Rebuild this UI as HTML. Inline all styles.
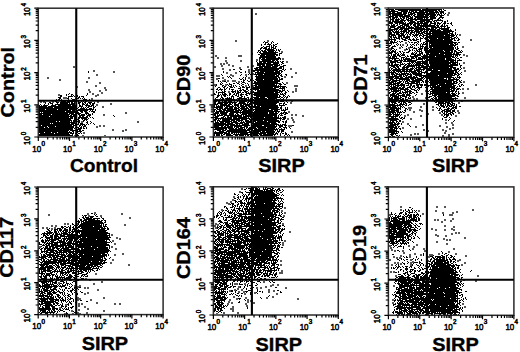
<!DOCTYPE html><html><head><meta charset="utf-8"><style>
html,body{margin:0;padding:0;background:#fff;width:520px;height:352px;overflow:hidden}
svg{display:block}
text{font-family:"Liberation Sans",sans-serif}
</style></head><body>
<svg width="520" height="352" viewBox="0 0 520 352">
<path d="M448 12.5h2M255 13.5h2m191 0h2M255 14.5h2m190 0h2M447 15.5h2M459 34.5h2M459 35.5h2M470 39.5h2M235 40.5h2m30 0h2m201 0h2M235 41.5h2m30 0h2M405 42.5h2M405 43.5h2M402 44.5h2M402 45.5h2M462 46.5h2M399 47.5h2m7 0h2m52 0h2M389 48.5h2m8 0h2m7 0h2M389 49.5h2m13 0h2M404 50.5h2M281 51.5h2M281 52.5h2M251 53.5h2M251 54.5h2m210 0h2M215 55.5h2m21 0h4m221 0h2m1 0h2M215 56.5h2m21 0h4m224 0h2M217 57.5h2m6 0h2M217 58.5h2m6 0h2m55 0h2M256 59.5h2m24 0h2M225 60.5h2m13 0h2m14 0h2M225 61.5h2m13 0h2m44 0h2M226 62.5h2m58 0h2m175 0h2M220 63.5h2m1 0h2m1 0h2m235 0h2M220 64.5h2m1 0h2m3 0h2M221 65.5h2m5 0h2m2 0h2m18 0h2M73 66.5h2m139 0h2m5 0h2m9 0h2m13 0h2m3 0h2M73 67.5h2m139 0h2m23 0h2m6 0h2m214 0h2M222 68.5h2m15 0h2m49 0h2m171 0h2M222 69.5h2m5 0h2m17 0h2m1 0h2m37 0h2M93 70.5h2m134 0h2m17 0h2m1 0h2m211 0h2M93 71.5h2m18 0h2m133 0h2m214 0h2M113 72.5h2m111 0h2m7 0h2m11 0h2m45 0h2M226 73.5h2m7 0h2m15 0h2m41 0h2M96 74.5h2m132 0h2m13 0h2m5 0h2M96 75.5h2m118 0h4m10 0h4m11 0h2M216 76.5h4m12 0h2m50 0h2m5 0h2M47 77.5h2m39 0h2m132 0h2m24 0h2m34 0h2m5 0h2M47 78.5h2m39 0h2m126 0h2m4 0h2m24 0h2M59 79.5h2m155 0h2m6 0h2M59 80.5h2m161 0h4m1 0h2m3 0h4M86 81.5h2m134 0h2m3 0h2m3 0h4m2 0h2m223 0h2M86 82.5h2m11 0h2m137 0h2m46 0h2m175 0h2M99 83.5h2m185 0h2M214 84.5h2m9 0h2m248 0h2M95 85.5h2m117 0h2m9 0h2m18 0h2m5 0h2m40 0h4m177 0h2M76 86.5h2m17 0h2m148 0h2m5 0h2m40 0h4M76 87.5h2m26 0h2M104 88.5h2m189 0h2m165 0h2m3 0h2M88 89.5h2m15 0h2m188 0h2m165 0h2m3 0h2M88 90.5h2m9 0h2m4 0h2m188 0h2m128 0h2M89 91.5h2m8 0h2m127 0h2m20 0h2m40 0h2m1 0h2m128 0h2M89 92.5h2m10 0h2m125 0h2m20 0h2m40 0h2m168 0h2M92 93.5h2m7 0h2m318 0h2m39 0h2M58 94.5h2m32 0h2m3 0h2m322 0h2M58 95.5h2m35 0h4M95 96.5h2m315 0h2M63 97.5h4m345 0h2m11 0h2m37 0h2M63 98.5h4m24 0h2m320 0h2m1 0h2m7 0h2m37 0h2M91 99.5h2m320 0h2m1 0h2m9 0h2M291 100.5h2m118 0h2m14 0h2m32 0h2M40 101.5h2m1 0h2m7 0h2m43 0h2m192 0h2m118 0h2m48 0h2M40 102.5h2m1 0h2m7 0h2m43 0h2m191 0h2m166 0h2M110 103.5h2m178 0h2m131 0h2m33 0h2M96 104.5h2m12 0h2m311 0h2M96 105.5h2M102 106.5h2m316 0h2m10 0h2M102 107.5h2m304 0h4m8 0h2m10 0h2M408 108.5h4M409 109.5h2m8 0h2m11 0h2M409 110.5h2m8 0h4m9 0h2m23 0h2M288 111.5h2m123 0h2m6 0h2m34 0h2M125 112.5h2m161 0h2m123 0h2m24 0h2m17 0h2M125 113.5h2m300 0h2m10 0h2m17 0h2M103 114.5h2m186 0h2m2 0h2m110 0h2m18 0h2m12 0h2M103 115.5h2m186 0h2m2 0h2m5 0h2m100 0h2m1 0h2m11 0h2m19 0h2m12 0h2M302 116.5h2m100 0h2m14 0h2m33 0h2M291 117.5h2M287 118.5h2m2 0h2m117 0h2M287 119.5h2m3 0h2m116 0h2m33 0h2M292 120.5h2m151 0h2M81 121.5h2m54 0h2m154 0h2m107 0h2M81 122.5h2m54 0h2m154 0h2m107 0h2m41 0h2m4 0h2M407 123.5h2m36 0h2m4 0h2M407 124.5h2m13 0h2m28 0h2M99 125.5h2m2 0h2m183 0h4m130 0h2m15 0h2m11 0h2M96 126.5h2m1 0h2m2 0h2m183 0h4m123 0h2m22 0h2m5 0h2M96 127.5h2m304 0h2m11 0h2m29 0h2m4 0h2M402 128.5h2m45 0h2m1 0h2M112 129.5h2m11 0h2m296 0h2m17 0h2m5 0h2M112 130.5h2m8 0h2m1 0h2m296 0h2m2 0h2m13 0h2m1 0h2M122 131.5h2m167 0h2m134 0h2m16 0h2M83 132.5h2m206 0h2m151 0h2M83 133.5h2m329 0h2m1 0h2m25 0h2m6 0h2M410 134.5h2m2 0h2m1 0h2m29 0h2m2 0h2M74 135.5h2m6 0h2m20 0h2m304 0h2m30 0h2m4 0h2M442 136.5h2m4 0h2M241 188.5h2M241 189.5h2M239 191.5h2M239 192.5h2M233 196.5h2M233 197.5h2M232 199.5h2M232 200.5h2M230 201.5h2M226 202.5h2m2 0h2M226 203.5h4M228 204.5h2M400 206.5h2m34 0h2m6 0h2M284 207.5h2m114 0h2m34 0h2m6 0h2M284 208.5h2M221 209.5h2m177 0h2m70 0h2M221 210.5h2m58 0h2m117 0h2m16 0h2m15 0h2m35 0h2M281 211.5h2m135 0h2m15 0h2m19 0h2M94 212.5h2m188 0h2m156 0h2m8 0h2m2 0h2M87 213.5h2m5 0h2m25 0h2m161 0h2m136 0h2m18 0h2m8 0h2M48 214.5h2m37 0h2m32 0h2m266 0h2m31 0h2m25 0h4M48 215.5h2m38 0h2m10 0h2m181 0h2m104 0h2m58 0h4M88 216.5h2m10 0h2m181 0h2M129 217.5h2M129 218.5h2m321 0h2M434 219.5h2m1 0h2m5 0h2m6 0h2M434 220.5h2m1 0h2m5 0h2m4 0h2M441 221.5h2m7 0h2M441 222.5h2M64 223.5h2m1 0h2m7 0h2m137 0h2m65 0h2M64 224.5h2m1 0h2m7 0h2m46 0h2m89 0h4m63 0h2M51 225.5h2m2 0h2m67 0h2m88 0h2m1 0h2m225 0h2M51 226.5h2m2 0h2m157 0h2m228 0h2m7 0h2M42 227.5h2m2 0h2m6 0h2m159 0h2m236 0h2M42 228.5h2m2 0h2m3 0h2m1 0h2m159 0h2m214 0h2m18 0h2M51 229.5h2m378 0h2m2 0h2m7 0h2m5 0h4M435 230.5h2m7 0h2m7 0h2M289 231.5h2M289 232.5h2m164 0h2m1 0h2M451 233.5h2m2 0h2m1 0h2M111 234.5h2m322 0h2m14 0h2M111 235.5h2m322 0h4m6 0h2M437 236.5h2m6 0h2M116 237.5h2m346 0h2M116 238.5h2m1 0h2m322 0h2m19 0h2M119 239.5h2m322 0h2m1 0h2m1 0h2M112 240.5h2m170 0h2m160 0h2m1 0h2M112 241.5h2m170 0h2m150 0h2M282 242.5h2m152 0h2M114 243.5h2m166 0h2m162 0h2M114 244.5h2m166 0h2m132 0h2m28 0h2M282 245.5h2m105 0h2m17 0h2m6 0h2M39 246.5h2m70 0h2m276 0h2m17 0h2m3 0h2M39 247.5h2m70 0h2m277 0h2m21 0h2M115 248.5h2m273 0h2m20 0h2m9 0h2m28 0h2M115 249.5h2m274 0h2m19 0h2m9 0h2m28 0h2M391 250.5h2m1 0h2m6 0h2m20 0h2M394 251.5h2m6 0h2m20 0h2m22 0h2M403 252.5h2m43 0h2M122 253.5h2m279 0h2m9 0h2m22 0h2m15 0h2M114 254.5h2m6 0h2m285 0h2m3 0h2m4 0h2m7 0h4m5 0h2m15 0h2M114 255.5h2m284 0h2m7 0h2m9 0h2m7 0h4m32 0h2M393 256.5h2m5 0h2m7 0h2m15 0h4m35 0h2M393 257.5h2m1 0h2m1 0h2m8 0h2m15 0h4M396 258.5h2m1 0h2M112 259.5h2m275 0h2m19 0h2m47 0h2M112 260.5h2m166 0h2m107 0h2m19 0h2m15 0h2m28 0h4M280 261.5h2m130 0h2m13 0h2m28 0h2M110 262.5h2m282 0h2m1 0h2m11 0h4m12 0h2m36 0h2M110 263.5h2m282 0h2m1 0h2m1 0h2m8 0h2m14 0h2m36 0h2M128 264.5h2m150 0h2m109 0h2m7 0h2m8 0h2m49 0h2M128 265.5h2m150 0h2m109 0h2m17 0h2m13 0h2m34 0h2M425 266.5h2M281 270.5h2M281 271.5h2m107 0h2m1 0h2M279 272.5h4m107 0h2m1 0h2M95 273.5h2m182 0h4M95 274.5h2M395 275.5h2m80 0h2M395 276.5h2m80 0h2M85 278.5h2M85 279.5h2m2 0h2m180 0h2m190 0h2M89 280.5h2m180 0h2m190 0h2m10 0h2M101 281.5h2m160 0h2m210 0h2M58 282.5h2m41 0h2m160 0h2M58 283.5h2m33 0h2m139 0h4m6 0h2M93 284.5h2m139 0h4m6 0h2m26 0h2m3 0h2M74 285.5h2m3 0h2m189 0h4m3 0h2m114 0h2M74 286.5h2m1 0h4m157 0h2m25 0h2m3 0h2m121 0h2M77 287.5h2m5 0h2m1 0h2m149 0h2m16 0h2m2 0h2m3 0h2m18 0h2M84 288.5h2m1 0h2m148 0h2m17 0h2m2 0h2m23 0h2M97 289.5h2m135 0h2m1 0h2m2 0h2m25 0h2M97 290.5h2m130 0h2m3 0h2m5 0h2m25 0h2m3 0h2M229 291.5h2m7 0h2m3 0h2m23 0h2m3 0h2M87 292.5h2m149 0h2m3 0h2m9 0h2m12 0h2M84 293.5h2m1 0h2m155 0h2m8 0h2m20 0h2M84 294.5h2m158 0h2m30 0h2M233 296.5h2m37 0h2M77 297.5h2m24 0h2m128 0h2m10 0h2m19 0h2m4 0h2M75 298.5h6m22 0h2m131 0h2m7 0h2m19 0h2m29 0h2M75 299.5h6m9 0h2m137 0h2m5 0h2m9 0h2m48 0h2m93 0h2M77 300.5h2m11 0h2m137 0h2m16 0h2m1 0h2m140 0h2M228 301.5h2m17 0h2m1 0h2M96 302.5h2m130 0h2m1 0h2m14 0h2m4 0h2m137 0h2M78 303.5h2m1 0h2m13 0h2m16 0h2m3 0h2m106 0h2m2 0h2m12 0h2m6 0h2m137 0h2m68 0h2M65 304.5h2m11 0h2m1 0h2m31 0h2m3 0h2m106 0h2m16 0h2m215 0h2M65 305.5h2m11 0h2m166 0h2M78 306.5h2m4 0h2m146 0h2m12 0h2m216 0h2M59 307.5h2m23 0h2m146 0h2m230 0h2M59 308.5h2m26 0h2m141 0h4M78 309.5h2m7 0h2m141 0h4M71 310.5h2m5 0h2m23 0h2m127 0h2M71 311.5h2m30 0h2m127 0h2M77 312.5h2m7 0h2m135 0h2m12 0h2M64 313.5h2m6 0h2m3 0h4m5 0h2m128 0h2m5 0h2m12 0h2" stroke="#555" stroke-width="1" fill="none" shape-rendering="crispEdges"/><path d="M389 9.5h5m1 0h26m1 0h20m1 0h1M389 10.5h1m1 0h4m3 0h10m1 0h17m1 0h10m1 0h2m1 0h1m2 0h2M389 11.5h9m3 0h7m1 0h1m1 0h3m1 0h2m2 0h5m1 0h9m1 0h3m1 0h5M389 12.5h2m1 0h3m2 0h5m1 0h4m1 0h4m1 0h15m1 0h10m1 0h4M389 13.5h13m1 0h4m1 0h1m1 0h5m2 0h8m1 0h9m1 0h1m1 0h1m1 0h2m1 0h1m1 0h1M389 14.5h2m1 0h14m2 0h5m1 0h2m1 0h19m1 0h3m1 0h1m2 0h1M390 15.5h1m1 0h11m1 0h6m1 0h1m1 0h2m2 0h7m1 0h1m1 0h2m1 0h6m1 0h1m1 0h5M389 16.5h5m1 0h3m1 0h12m1 0h1m1 0h14m1 0h6m1 0h1m3 0h2M389 17.5h2m1 0h6m2 0h1m1 0h3m1 0h3m1 0h3m2 0h14m1 0h6m3 0h5M390 18.5h1m1 0h3m1 0h1m1 0h1m1 0h2m1 0h2m1 0h1m1 0h5m1 0h2m1 0h6m1 0h1m1 0h2m2 0h6m2 0h2m2 0h1M390 19.5h4m1 0h5m1 0h3m2 0h3m1 0h23m4 0h2m1 0h1M390 20.5h1m1 0h2m1 0h4m1 0h6m1 0h6m2 0h2m3 0h6m1 0h3m2 0h1m1 0h9m4 0h1M389 21.5h2m1 0h11m1 0h1m3 0h1m1 0h5m2 0h8m1 0h6m1 0h2m1 0h1m5 0h1m1 0h2m1 0h1M389 22.5h4m1 0h10m1 0h1m3 0h7m1 0h2m1 0h3m1 0h2m1 0h2m1 0h2m2 0h2m1 0h2m2 0h1m2 0h2m5 0h1M389 23.5h4m2 0h3m1 0h7m1 0h6m1 0h14m2 0h6m1 0h4m2 0h3m1 0h2m1 0h2M391 24.5h1m1 0h2m2 0h1m1 0h1m2 0h7m1 0h2m1 0h3m1 0h3m1 0h1m1 0h5m1 0h2m3 0h2m1 0h1m1 0h1m2 0h1m1 0h1m6 0h1M389 25.5h1m1 0h4m1 0h2m2 0h3m1 0h5m1 0h1m2 0h3m1 0h18m1 0h3m2 0h2m1 0h1m1 0h2m4 0h1M390 26.5h6m2 0h3m1 0h3m1 0h4m1 0h1m2 0h5m1 0h16m1 0h2m1 0h6m1 0h1M390 27.5h5m2 0h8m1 0h1m1 0h6m1 0h7m1 0h1m1 0h3m3 0h9m1 0h1m2 0h1m2 0h3M389 28.5h2m3 0h5m1 0h25m1 0h4m1 0h3m1 0h2m2 0h10M389 29.5h9m1 0h4m1 0h5m2 0h1m2 0h22m1 0h3m1 0h8m1 0h1m4 0h1M389 30.5h4m1 0h1m1 0h1m1 0h1m2 0h1m1 0h4m1 0h6m1 0h4m1 0h3m1 0h1m3 0h1m1 0h11m2 0h9m3 0h1M389 31.5h2m1 0h2m1 0h4m1 0h7m1 0h2m1 0h2m1 0h8m1 0h4m2 0h25M389 32.5h3m1 0h7m1 0h1m1 0h2m1 0h3m1 0h5m1 0h4m1 0h4m1 0h2m1 0h2m1 0h18m2 0h1m2 0h1M389 33.5h3m2 0h1m1 0h3m1 0h4m2 0h1m1 0h1m1 0h2m2 0h1m1 0h1m1 0h5m1 0h24m1 0h4m2 0h1M389 34.5h6m1 0h4m1 0h3m1 0h1m1 0h1m1 0h2m1 0h2m1 0h4m1 0h1m1 0h2m2 0h1m1 0h3m1 0h18m1 0h3m1 0h1m1 0h1M389 35.5h1m1 0h5m2 0h7m2 0h1m2 0h1m2 0h5m1 0h3m1 0h3m3 0h15m1 0h10m1 0h1M389 36.5h3m1 0h1m1 0h1m2 0h4m1 0h2m1 0h4m2 0h1m1 0h1m1 0h1m2 0h1m2 0h2m3 0h23m1 0h3m2 0h1M390 37.5h2m1 0h4m1 0h2m1 0h1m1 0h7m5 0h1m1 0h1m2 0h1m2 0h1m1 0h2m1 0h24m2 0h2m1 0h1M389 38.5h1m1 0h1m2 0h1m1 0h4m1 0h2m2 0h3m1 0h1m3 0h1m2 0h1m3 0h3m1 0h4m1 0h8m1 0h12m1 0h4m1 0h1m1 0h1M389 39.5h7m3 0h1m2 0h4m2 0h3m1 0h3m1 0h3m1 0h1m4 0h1m1 0h2m1 0h13m1 0h9m1 0h1m3 0h2M389 40.5h1m1 0h1m2 0h2m8 0h3m3 0h2m1 0h4m3 0h1m6 0h25m2 0h2m1 0h2M264 41.5h1m7 0h1m117 0h3m1 0h1m2 0h1m1 0h1m1 0h2m5 0h1m8 0h2m1 0h1m4 0h1m1 0h26M263 42.5h1m1 0h3m3 0h1m1 0h1m116 0h7m3 0h1m8 0h1m1 0h2m1 0h3m1 0h1m4 0h2m4 0h28m1 0h2M265 43.5h1m2 0h1m2 0h1m5 0h1m111 0h3m1 0h1m3 0h1m16 0h1m2 0h1m3 0h1m1 0h1m1 0h3m1 0h24m1 0h2m1 0h1M261 44.5h1m2 0h2m1 0h4m2 0h1m1 0h2m114 0h1m4 0h1m1 0h1m1 0h1m6 0h1m2 0h1m1 0h2m2 0h1m1 0h1m1 0h1m1 0h6m1 0h1m1 0h18m1 0h4m1 0h3M261 45.5h1m7 0h1m1 0h1m1 0h2m114 0h2m3 0h1m2 0h1m2 0h1m6 0h1m3 0h1m2 0h1m1 0h1m3 0h1m1 0h1m3 0h2m1 0h27M263 46.5h1m2 0h4m1 0h1m1 0h1m1 0h2m112 0h1m2 0h4m5 0h1m4 0h1m3 0h1m1 0h1m7 0h4m1 0h1m3 0h24m1 0h1m2 0h1M261 47.5h2m1 0h3m2 0h1m1 0h3m1 0h1m115 0h2m9 0h1m7 0h3m1 0h1m3 0h1m1 0h1m1 0h1m1 0h4m1 0h3m1 0h21m1 0h1m1 0h1M260 48.5h2m1 0h4m1 0h2m1 0h1m1 0h3m115 0h3m12 0h1m6 0h4m2 0h4m1 0h2m1 0h2m1 0h24m1 0h1m1 0h2M260 49.5h1m4 0h9m2 0h1m1 0h1m1 0h1m110 0h1m2 0h1m1 0h1m9 0h2m1 0h1m2 0h1m3 0h1m1 0h4m2 0h3m2 0h25m2 0h2M258 50.5h2m1 0h2m1 0h2m1 0h8m1 0h1m1 0h2m110 0h1m1 0h2m1 0h1m13 0h2m1 0h1m1 0h1m1 0h2m1 0h1m1 0h1m2 0h2m1 0h16m1 0h9m1 0h2m2 0h2m1 0h1M258 51.5h1m1 0h1m1 0h5m1 0h6m1 0h1m3 0h1m109 0h1m1 0h5m3 0h2m1 0h1m5 0h2m5 0h1m1 0h5m3 0h19m1 0h5m1 0h2m1 0h3m3 0h1m1 0h1M257 52.5h1m1 0h2m2 0h15m111 0h4m1 0h2m1 0h1m2 0h1m2 0h2m1 0h3m3 0h1m1 0h1m1 0h1m2 0h1m1 0h2m2 0h28m1 0h1m1 0h6M260 53.5h16m3 0h3m107 0h3m3 0h2m1 0h1m2 0h1m1 0h1m7 0h3m1 0h2m2 0h4m3 0h3m1 0h9m1 0h12m1 0h2m1 0h3M258 54.5h2m1 0h17m1 0h1m111 0h1m1 0h3m1 0h2m1 0h1m1 0h3m6 0h5m1 0h4m1 0h1m1 0h1m3 0h16m1 0h16M260 55.5h5m1 0h9m1 0h2m1 0h1m109 0h1m1 0h1m1 0h3m1 0h3m1 0h4m2 0h1m2 0h1m3 0h7m2 0h5m1 0h23m1 0h1m1 0h3m1 0h1M260 56.5h16m114 0h1m1 0h5m2 0h2m4 0h1m1 0h2m1 0h8m3 0h6m1 0h7m1 0h18m1 0h1m1 0h1M259 57.5h17m2 0h2m109 0h2m1 0h3m1 0h1m4 0h4m1 0h1m4 0h3m1 0h2m1 0h3m1 0h29m1 0h3m1 0h1m3 0h2M259 58.5h2m1 0h3m1 0h15m108 0h10m2 0h1m1 0h1m1 0h5m1 0h4m1 0h1m1 0h10m1 0h16m1 0h6m3 0h1m1 0h2M259 59.5h1m1 0h18m1 0h1m108 0h1m2 0h1m1 0h2m3 0h1m1 0h1m1 0h9m4 0h7m1 0h1m1 0h19m1 0h8m1 0h1m3 0h1M259 60.5h1m2 0h9m1 0h3m1 0h2m111 0h3m2 0h9m1 0h2m1 0h10m5 0h1m2 0h31m1 0h5M256 61.5h1m2 0h15m1 0h1m1 0h2m1 0h1m1 0h2m106 0h8m2 0h2m1 0h13m1 0h11m1 0h20m1 0h4m1 0h1m1 0h1M257 62.5h1m1 0h3m1 0h3m1 0h12m2 0h2m107 0h6m1 0h5m7 0h1m1 0h3m1 0h6m1 0h6m1 0h29M257 63.5h14m2 0h6m3 0h2m105 0h1m1 0h2m2 0h1m4 0h1m1 0h1m1 0h1m2 0h4m1 0h1m1 0h1m1 0h10m3 0h22m1 0h4m1 0h1m1 0h1M257 64.5h8m1 0h12m1 0h1m1 0h1m107 0h1m1 0h2m1 0h5m1 0h4m1 0h2m1 0h2m1 0h1m1 0h1m1 0h6m1 0h1m1 0h5m1 0h19m1 0h8m1 0h1M257 65.5h4m1 0h3m1 0h7m1 0h6m3 0h3m103 0h9m1 0h2m3 0h2m1 0h17m2 0h3m1 0h28m2 0h2M259 66.5h12m1 0h6m2 0h4m107 0h4m1 0h3m1 0h1m2 0h2m1 0h9m1 0h1m1 0h2m1 0h32m7 0h1M256 67.5h7m1 0h13m2 0h3m1 0h1m106 0h1m2 0h3m1 0h2m3 0h7m3 0h1m1 0h1m1 0h12m1 0h20m1 0h6m4 0h1M254 68.5h4m1 0h23m1 0h1m105 0h1m1 0h2m2 0h2m1 0h2m2 0h3m1 0h2m2 0h4m1 0h2m1 0h3m2 0h3m2 0h24m1 0h3m1 0h2m2 0h1M233 69.5h2m5 0h2m13 0h24m3 0h2m1 0h1m103 0h1m1 0h1m1 0h20m1 0h1m1 0h9m1 0h1m1 0h4m1 0h19m2 0h5m1 0h1M253 70.5h25m1 0h3m2 0h1m104 0h2m1 0h9m1 0h3m1 0h2m1 0h3m2 0h6m1 0h1m1 0h1m3 0h11m2 0h17m2 0h1M88 71.5h1m134 0h1m15 0h1m5 0h1m7 0h2m2 0h2m1 0h14m1 0h5m1 0h2m106 0h1m1 0h1m1 0h2m1 0h20m1 0h5m3 0h3m3 0h23m1 0h2m1 0h1M88 72.5h1m134 0h1m16 0h2m3 0h1m9 0h9m1 0h15m1 0h1m107 0h7m2 0h1m1 0h2m2 0h1m1 0h1m2 0h1m1 0h6m1 0h2m1 0h5m1 0h1m2 0h24m1 0h3m3 0h1M249 73.5h1m5 0h1m1 0h24m108 0h1m1 0h3m1 0h3m1 0h1m1 0h8m1 0h1m1 0h10m2 0h1m1 0h21m1 0h8m1 0h2m1 0h1M221 74.5h1m19 0h1m6 0h1m1 0h1m3 0h9m1 0h13m1 0h2m1 0h1m3 0h2m102 0h1m1 0h4m1 0h10m1 0h5m1 0h9m4 0h1m1 0h25m1 0h3m1 0h2m1 0h1M222 75.5h1m17 0h1m15 0h1m1 0h17m1 0h3m1 0h2m4 0h1m102 0h1m2 0h1m1 0h3m2 0h3m1 0h1m1 0h3m2 0h2m3 0h23m1 0h16m2 0h2M227 76.5h1m1 0h1m16 0h1m8 0h24m2 0h2m106 0h13m1 0h2m1 0h1m1 0h4m1 0h2m1 0h1m2 0h3m1 0h29m5 0h1m1 0h1M228 77.5h1m1 0h1m12 0h1m1 0h1m10 0h21m1 0h2m109 0h5m1 0h4m1 0h3m2 0h13m3 0h3m1 0h2m1 0h26m1 0h1m1 0h4M218 78.5h2m11 0h1m7 0h1m2 0h1m2 0h1m5 0h2m3 0h22m1 0h1m1 0h2m106 0h4m1 0h15m1 0h6m1 0h6m1 0h1m3 0h16m2 0h1m1 0h3m2 0h2m1 0h1m2 0h1M240 79.5h2m1 0h1m1 0h1m4 0h1m4 0h8m1 0h14m1 0h4m107 0h4m2 0h1m2 0h11m1 0h3m1 0h7m1 0h1m5 0h18m1 0h11M218 80.5h1m24 0h2m2 0h1m2 0h1m2 0h1m2 0h17m1 0h6m109 0h2m1 0h8m2 0h1m1 0h1m1 0h4m2 0h11m2 0h1m1 0h1m1 0h25m2 0h2m1 0h1m1 0h1M218 81.5h1m1 0h1m3 0h2m15 0h1m1 0h1m4 0h2m4 0h2m1 0h23m109 0h1m1 0h6m2 0h3m1 0h1m1 0h3m1 0h11m2 0h2m1 0h1m2 0h1m1 0h22m1 0h4m2 0h2M221 82.5h1m4 0h1m9 0h1m5 0h3m9 0h24m4 0h1m106 0h5m1 0h1m1 0h4m2 0h1m1 0h1m1 0h2m2 0h4m1 0h4m1 0h1m1 0h1m1 0h2m2 0h23m1 0h2m1 0h2m2 0h2M220 83.5h1m1 0h1m6 0h1m3 0h2m2 0h2m2 0h1m3 0h1m1 0h1m5 0h28m2 0h1m105 0h3m1 0h7m1 0h2m2 0h13m1 0h1m6 0h2m2 0h15m1 0h11m2 0h1M216 84.5h1m3 0h2m5 0h1m1 0h3m7 0h1m2 0h2m4 0h1m6 0h20m1 0h1m2 0h3m2 0h2m103 0h7m1 0h2m1 0h5m3 0h1m1 0h2m4 0h7m1 0h2m4 0h8m1 0h15m4 0h1m2 0h2M216 85.5h1m5 0h2m4 0h1m2 0h1m1 0h1m1 0h1m5 0h1m6 0h1m5 0h3m1 0h19m1 0h1m1 0h1m108 0h1m1 0h1m1 0h1m1 0h10m1 0h3m1 0h2m1 0h2m1 0h3m1 0h3m1 0h2m2 0h8m1 0h15m1 0h3m3 0h1m1 0h1m1 0h1M215 86.5h1m6 0h1m1 0h2m3 0h3m1 0h1m2 0h1m2 0h1m2 0h2m5 0h1m5 0h31m104 0h2m1 0h3m1 0h2m2 0h1m1 0h2m4 0h2m1 0h3m2 0h2m2 0h1m6 0h1m1 0h1m1 0h8m1 0h14m2 0h1m1 0h2M218 87.5h2m3 0h2m2 0h1m2 0h3m1 0h1m5 0h1m1 0h3m1 0h4m1 0h1m1 0h20m1 0h5m1 0h1m1 0h3m1 0h1m102 0h1m1 0h7m1 0h2m1 0h3m2 0h4m1 0h1m1 0h1m1 0h6m3 0h2m3 0h25m1 0h1M217 88.5h1m2 0h1m3 0h1m1 0h1m2 0h1m8 0h3m5 0h2m4 0h24m3 0h6m104 0h15m1 0h3m2 0h2m3 0h1m2 0h2m6 0h1m4 0h2m1 0h16m1 0h5m1 0h3M216 89.5h2m1 0h4m1 0h2m3 0h1m1 0h3m6 0h1m1 0h2m2 0h2m2 0h2m1 0h6m1 0h19m3 0h1m1 0h1m105 0h7m1 0h1m1 0h9m2 0h4m2 0h1m1 0h1m10 0h22m1 0h2m1 0h3m1 0h1M218 90.5h1m2 0h1m2 0h1m7 0h1m2 0h1m1 0h1m1 0h3m1 0h3m2 0h1m6 0h1m1 0h24m1 0h3m2 0h1m101 0h1m1 0h1m1 0h8m3 0h2m1 0h1m1 0h2m3 0h3m1 0h1m10 0h1m2 0h18m1 0h4m1 0h1M216 91.5h1m5 0h1m1 0h2m5 0h5m1 0h2m1 0h1m3 0h4m5 0h1m3 0h21m1 0h4m2 0h1m2 0h1m102 0h8m1 0h1m1 0h1m2 0h7m4 0h1m11 0h1m1 0h24m1 0h2m1 0h1M216 92.5h1m1 0h7m7 0h2m1 0h1m1 0h4m1 0h2m1 0h2m1 0h1m3 0h22m1 0h5m1 0h1m3 0h2m102 0h2m2 0h1m1 0h2m2 0h2m1 0h6m1 0h2m1 0h2m2 0h2m8 0h2m2 0h1m1 0h14m1 0h3m2 0h1m2 0h1m2 0h1M69 93.5h1m17 0h1m126 0h1m3 0h1m3 0h1m1 0h2m3 0h2m3 0h1m1 0h3m2 0h1m4 0h5m3 0h24m2 0h1m1 0h1m1 0h2m103 0h1m2 0h4m1 0h5m1 0h1m1 0h1m1 0h1m1 0h3m2 0h1m13 0h1m1 0h20m1 0h4m1 0h1m1 0h2M66 94.5h1m1 0h1m2 0h2m3 0h1m10 0h1m126 0h2m2 0h1m1 0h1m1 0h5m2 0h2m2 0h2m1 0h1m1 0h1m1 0h4m1 0h2m2 0h1m1 0h1m1 0h26m1 0h4m1 0h1m104 0h5m1 0h3m3 0h3m1 0h4m6 0h1m10 0h1m1 0h2m1 0h1m1 0h17m1 0h4m2 0h1M60 95.5h2m4 0h1m4 0h1m1 0h1m2 0h2m8 0h1m130 0h3m1 0h1m1 0h3m1 0h1m1 0h1m2 0h1m2 0h2m1 0h1m1 0h2m4 0h2m3 0h1m2 0h24m1 0h1m3 0h2m3 0h1m101 0h7m1 0h7m1 0h5m4 0h1m16 0h5m1 0h20M60 96.5h2m6 0h5m1 0h1m1 0h2m1 0h1m1 0h3m133 0h2m2 0h1m2 0h2m5 0h3m3 0h2m2 0h2m1 0h1m7 0h1m3 0h22m1 0h2m2 0h1m1 0h1m1 0h1m1 0h1m100 0h1m1 0h7m1 0h1m1 0h5m2 0h1m19 0h3m2 0h2m1 0h18m2 0h2M58 97.5h3m7 0h1m7 0h1m1 0h2m3 0h1m132 0h2m3 0h2m4 0h1m1 0h1m1 0h1m1 0h1m5 0h3m2 0h1m2 0h2m4 0h6m1 0h5m2 0h13m1 0h2m1 0h1m1 0h2m101 0h1m1 0h2m1 0h5m1 0h2m3 0h2m1 0h1m1 0h1m17 0h2m3 0h1m1 0h2m1 0h14m3 0h1M59 98.5h2m6 0h2m2 0h1m3 0h1m1 0h2m1 0h1m1 0h1m1 0h1m130 0h1m4 0h1m1 0h2m1 0h7m1 0h1m3 0h10m1 0h1m1 0h1m1 0h1m1 0h13m1 0h9m3 0h1m2 0h1m2 0h1m102 0h4m1 0h7m1 0h2m1 0h1m2 0h3m20 0h2m1 0h3m1 0h20M56 99.5h1m1 0h2m1 0h1m6 0h1m3 0h3m1 0h1m6 0h4m2 0h1m125 0h3m1 0h1m1 0h3m2 0h9m1 0h1m1 0h2m1 0h2m1 0h3m1 0h1m1 0h1m1 0h2m1 0h20m1 0h4m1 0h3m105 0h10m1 0h4m1 0h3m22 0h1m1 0h2m1 0h19m1 0h1M56 100.5h1m2 0h1m1 0h2m1 0h3m1 0h1m1 0h1m3 0h1m1 0h3m1 0h4m1 0h1m3 0h3m123 0h3m2 0h12m1 0h2m1 0h10m1 0h1m1 0h3m1 0h10m1 0h2m1 0h1m1 0h7m3 0h1m4 0h2m103 0h12m1 0h2m1 0h2m25 0h1m3 0h15m1 0h6M55 101.5h2m4 0h5m1 0h10m1 0h1m2 0h1m1 0h1m1 0h2m127 0h3m1 0h2m2 0h1m1 0h3m1 0h4m2 0h1m2 0h1m1 0h8m1 0h3m1 0h1m1 0h25m1 0h4m2 0h1m102 0h8m2 0h6m1 0h2m1 0h1m24 0h1m1 0h11m1 0h5m1 0h1M45 102.5h1m3 0h2m5 0h3m1 0h10m1 0h2m1 0h1m1 0h1m1 0h3m1 0h1m1 0h2m2 0h4m2 0h1m119 0h2m2 0h19m2 0h6m2 0h2m1 0h1m1 0h27m5 0h1m2 0h1m101 0h1m1 0h5m2 0h2m1 0h1m1 0h3m2 0h3m24 0h2m1 0h6m1 0h5m1 0h2M45 103.5h1m2 0h1m1 0h3m4 0h1m2 0h8m1 0h1m1 0h4m1 0h1m1 0h2m2 0h2m1 0h1m1 0h1m1 0h2m1 0h3m119 0h2m1 0h6m1 0h4m1 0h2m1 0h1m1 0h2m2 0h8m1 0h1m1 0h3m1 0h24m2 0h3m1 0h2m104 0h1m2 0h1m1 0h3m3 0h2m1 0h1m1 0h2m4 0h1m26 0h8m1 0h4m1 0h3M40 104.5h1m3 0h1m3 0h1m3 0h1m2 0h20m4 0h1m2 0h3m1 0h2m2 0h1m1 0h2m120 0h4m2 0h7m1 0h4m2 0h5m1 0h2m1 0h9m2 0h22m3 0h1m3 0h1m1 0h2m102 0h6m2 0h1m1 0h6m1 0h1m2 0h2m25 0h3m1 0h2m1 0h1m1 0h1m1 0h2m1 0h3m1 0h1m1 0h1M39 105.5h1m1 0h1m1 0h5m3 0h5m2 0h13m1 0h4m3 0h2m1 0h1m2 0h5m1 0h3m120 0h1m1 0h1m1 0h1m1 0h10m2 0h1m1 0h5m1 0h4m1 0h5m1 0h2m1 0h2m1 0h21m1 0h6m104 0h12m1 0h1m2 0h2m1 0h1m29 0h1m1 0h4m1 0h1m1 0h3m1 0h4m1 0h1M39 106.5h8m1 0h28m3 0h4m3 0h1m1 0h4m1 0h1m1 0h1m118 0h1m1 0h7m1 0h1m1 0h8m1 0h1m1 0h2m1 0h7m1 0h12m1 0h17m3 0h1m107 0h2m1 0h4m1 0h1m2 0h2m1 0h1m35 0h1m1 0h4m1 0h2m1 0h3m1 0h1m1 0h2m2 0h2M39 107.5h14m1 0h23m1 0h1m2 0h1m1 0h1m1 0h1m1 0h2m4 0h2m119 0h9m2 0h3m1 0h4m1 0h3m1 0h2m1 0h4m1 0h2m1 0h3m1 0h26m1 0h2m3 0h1m1 0h1m101 0h8m1 0h1m1 0h1m1 0h1m1 0h1m31 0h1m3 0h1m2 0h2m1 0h1m1 0h1m3 0h5M39 108.5h39m2 0h5m1 0h1m2 0h3m1 0h1m122 0h2m1 0h4m1 0h9m1 0h5m1 0h9m1 0h3m2 0h23m2 0h2m3 0h1m1 0h1m102 0h11m4 0h2m30 0h1m1 0h2m6 0h3m1 0h3m1 0h2M39 109.5h6m1 0h11m1 0h10m1 0h7m2 0h16m1 0h1m118 0h2m1 0h4m1 0h4m1 0h10m1 0h2m1 0h6m1 0h4m1 0h16m2 0h9m1 0h1m1 0h1m1 0h3m101 0h6m1 0h3m1 0h1m4 0h1m1 0h1m31 0h1m1 0h1m2 0h5m1 0h2m2 0h1M39 110.5h32m1 0h3m1 0h12m2 0h1m1 0h1m2 0h1m118 0h1m1 0h1m2 0h3m1 0h11m1 0h7m1 0h9m1 0h1m1 0h18m1 0h4m3 0h5m103 0h1m1 0h8m5 0h2m32 0h2m2 0h3m1 0h5m1 0h3M39 111.5h26m1 0h10m1 0h1m2 0h3m1 0h3m2 0h1m1 0h4m119 0h1m1 0h9m1 0h13m1 0h1m1 0h9m3 0h26m4 0h1m104 0h6m1 0h3m1 0h1m1 0h1m2 0h1m35 0h2m1 0h7m1 0h3M39 112.5h1m1 0h1m1 0h36m2 0h2m2 0h3m5 0h2m120 0h4m1 0h8m2 0h38m1 0h5m1 0h2m1 0h1m2 0h1m1 0h4m102 0h7m1 0h5m1 0h2m37 0h1m1 0h1m1 0h2m2 0h3m2 0h1M39 113.5h29m1 0h5m1 0h1m1 0h4m4 0h4m3 0h1m121 0h5m1 0h7m2 0h5m2 0h2m2 0h1m1 0h10m1 0h15m1 0h9m2 0h4m1 0h3m101 0h2m1 0h2m1 0h1m1 0h1m1 0h1m43 0h2m1 0h1m1 0h3m1 0h2M39 114.5h3m1 0h8m1 0h18m1 0h5m2 0h2m1 0h4m1 0h1m1 0h3m1 0h1m121 0h2m1 0h1m1 0h1m1 0h6m2 0h5m1 0h1m1 0h2m2 0h6m1 0h29m2 0h1m1 0h1m2 0h2m103 0h3m1 0h7m1 0h1m42 0h5m1 0h2m1 0h1M39 115.5h30m1 0h2m1 0h4m2 0h6m2 0h4m22 0h1m100 0h2m1 0h6m1 0h18m1 0h1m1 0h6m1 0h25m1 0h1m1 0h3m106 0h2m2 0h1m1 0h4m1 0h1m43 0h1m1 0h3m2 0h1M39 116.5h10m1 0h26m3 0h2m1 0h2m2 0h2m1 0h1m24 0h1m100 0h4m4 0h2m2 0h2m1 0h12m1 0h30m1 0h3m1 0h1m5 0h2m103 0h9m1 0h1m43 0h1m2 0h2M39 117.5h30m1 0h3m1 0h2m2 0h10m2 0h1m1 0h1m121 0h4m3 0h3m1 0h1m1 0h5m1 0h4m1 0h9m1 0h1m1 0h1m2 0h11m1 0h14m1 0h1m1 0h4m105 0h3m1 0h1m3 0h1m1 0h2m1 0h1m39 0h3m2 0h1M39 118.5h34m1 0h2m2 0h2m1 0h6m1 0h1m4 0h1m121 0h17m1 0h17m2 0h30m1 0h3m103 0h9m2 0h2m1 0h2m37 0h1m7 0h1M39 119.5h32m3 0h2m1 0h2m3 0h1m1 0h4m126 0h3m1 0h1m1 0h1m1 0h18m1 0h6m2 0h28m3 0h1m1 0h3m104 0h10m3 0h1m39 0h1m6 0h1M39 120.5h33m1 0h4m1 0h2m3 0h2m1 0h1m127 0h2m1 0h3m2 0h8m1 0h4m1 0h7m2 0h4m1 0h1m2 0h10m1 0h15m1 0h1m5 0h1m103 0h7m2 0h2m47 0h1m5 0h1M39 121.5h17m1 0h2m1 0h10m1 0h1m1 0h3m1 0h3m3 0h1m3 0h1m2 0h1m124 0h1m1 0h1m1 0h13m1 0h4m1 0h2m1 0h1m1 0h1m1 0h7m1 0h3m1 0h10m1 0h12m2 0h2m1 0h2m103 0h1m1 0h2m2 0h2m1 0h2m52 0h1M39 122.5h36m3 0h2m6 0h2m3 0h1m123 0h4m1 0h4m1 0h5m1 0h7m2 0h5m1 0h6m1 0h1m1 0h21m2 0h2m3 0h1m1 0h2m102 0h6m1 0h1m1 0h1M39 123.5h11m1 0h1m1 0h17m1 0h5m2 0h1m1 0h3m4 0h1m2 0h1m2 0h1m120 0h12m1 0h6m2 0h8m1 0h5m3 0h18m1 0h6m8 0h1m103 0h4m1 0h2m1 0h3m1 0h1M39 124.5h35m1 0h4m1 0h5m1 0h1m1 0h1m5 0h1m119 0h21m1 0h2m1 0h1m2 0h7m2 0h1m1 0h26m1 0h1m1 0h4m104 0h9m2 0h1M39 125.5h2m1 0h30m1 0h3m3 0h2m1 0h1m1 0h2m128 0h10m1 0h4m1 0h20m1 0h11m2 0h11m1 0h1m1 0h5m1 0h3m5 0h2m95 0h7m1 0h1m11 0h1M39 126.5h8m1 0h7m1 0h18m2 0h1m2 0h1m1 0h1m1 0h3m128 0h5m2 0h2m1 0h2m1 0h6m1 0h8m2 0h4m3 0h26m2 0h4m2 0h1m103 0h5m1 0h2m1 0h2m10 0h1M39 127.5h5m1 0h3m1 0h25m1 0h1m1 0h2m1 0h2m1 0h1m2 0h1m127 0h19m1 0h1m1 0h3m1 0h5m1 0h2m1 0h2m1 0h4m1 0h9m1 0h9m3 0h2m2 0h4m2 0h1m99 0h8m1 0h1M39 128.5h34m1 0h1m1 0h1m1 0h4m1 0h2m1 0h1m128 0h12m1 0h6m1 0h2m1 0h5m1 0h1m1 0h1m1 0h9m1 0h17m1 0h1m1 0h1m2 0h1m2 0h1m1 0h1m3 0h1m99 0h3m1 0h4m1 0h2M39 129.5h34m4 0h4m133 0h10m1 0h2m2 0h17m1 0h4m1 0h1m1 0h24m1 0h6m104 0h6m1 0h1m3 0h1M39 130.5h30m1 0h6m1 0h1m1 0h2m1 0h2m133 0h4m1 0h4m1 0h23m1 0h23m1 0h1m1 0h1m1 0h1m1 0h3m105 0h8M39 131.5h29m1 0h1m2 0h2m2 0h6m133 0h1m3 0h5m2 0h21m2 0h3m1 0h8m1 0h3m1 0h9m2 0h3m1 0h3m105 0h10m2 0h1M39 132.5h5m1 0h6m1 0h5m1 0h14m1 0h1m3 0h1m2 0h1m133 0h13m1 0h2m1 0h28m1 0h15m1 0h1m1 0h1m2 0h1m3 0h1m103 0h6m1 0h1m1 0h1m3 0h1M40 133.5h14m1 0h14m1 0h4m1 0h2m1 0h2m1 0h1m132 0h9m1 0h6m1 0h2m1 0h1m1 0h1m1 0h1m1 0h8m2 0h16m1 0h7m1 0h3m2 0h1m1 0h2m1 0h2m104 0h7M39 134.5h31m2 0h1m4 0h1m136 0h1m1 0h4m1 0h1m1 0h2m1 0h5m2 0h19m1 0h5m1 0h3m1 0h13m1 0h1m2 0h1m4 0h2m1 0h1m101 0h4m1 0h1M39 135.5h34m4 0h2m135 0h1m1 0h4m1 0h2m3 0h7m2 0h3m1 0h5m1 0h1m1 0h2m1 0h1m2 0h6m1 0h13m1 0h1m5 0h1m3 0h1m2 0h1m1 0h1m101 0h2m3 0h2m1 0h1M389 136.5h2m1 0h3m3 0h1M253 187.5h4m1 0h1m4 0h1m1 0h2m4 0h2M246 188.5h1m1 0h3m2 0h1m1 0h3m1 0h1m3 0h1m1 0h1m1 0h4m1 0h2m4 0h2M244 189.5h2m4 0h4m1 0h5m3 0h5m2 0h3m2 0h1m1 0h3m2 0h1M249 190.5h3m1 0h10m1 0h1m1 0h9m1 0h2m1 0h2m2 0h1M245 191.5h1m4 0h3m1 0h19m1 0h1m1 0h1m1 0h1m3 0h1M241 192.5h2m3 0h5m1 0h1m1 0h20m2 0h1m3 0h2M234 193.5h1m7 0h1m6 0h1m2 0h23m2 0h2M234 194.5h2m2 0h1m4 0h1m1 0h1m2 0h2m1 0h26m2 0h1m2 0h1M237 195.5h1m4 0h1m1 0h1m1 0h1m1 0h1m2 0h4m1 0h1m1 0h21m2 0h1m1 0h1M238 196.5h1m1 0h1m2 0h2m1 0h2m5 0h1m1 0h22M237 197.5h2m1 0h1m2 0h1m2 0h2m1 0h4m1 0h21m1 0h3m1 0h1M234 198.5h2m2 0h1m4 0h1m1 0h8m1 0h29M237 199.5h1m1 0h1m2 0h1m2 0h2m1 0h2m1 0h22m1 0h2m1 0h1m3 0h1m1 0h1M234 200.5h2m4 0h2m2 0h1m1 0h1m1 0h1m4 0h24m1 0h1m2 0h1M235 201.5h2m1 0h4m4 0h1m1 0h1m1 0h4m1 0h17m1 0h2m3 0h1m1 0h1m1 0h1M235 202.5h1m1 0h1m2 0h3m1 0h1m2 0h5m1 0h1m1 0h21m3 0h1m3 0h1M231 203.5h3m4 0h1m1 0h6m1 0h4m1 0h12m1 0h12m1 0h1m1 0h3M230 204.5h1m1 0h2m3 0h2m2 0h1m2 0h1m1 0h4m1 0h4m1 0h19m2 0h4m1 0h1M232 205.5h1m1 0h2m1 0h1m2 0h3m1 0h1m1 0h1m1 0h1m1 0h25m1 0h1m1 0h2m2 0h1M224 206.5h2m6 0h2m1 0h1m1 0h1m1 0h1m1 0h1m1 0h1m1 0h4m1 0h33M224 207.5h1m1 0h1m3 0h3m1 0h1m4 0h1m3 0h1m2 0h2m1 0h1m1 0h1m2 0h20m1 0h2m2 0h1m2 0h1m126 0h2M226 208.5h2m6 0h1m1 0h5m1 0h1m1 0h4m1 0h2m1 0h27m1 0h2m130 0h1M227 209.5h1m3 0h1m1 0h2m3 0h2m2 0h1m1 0h7m1 0h20m1 0h2m2 0h3m125 0h1m2 0h1m2 0h1M223 210.5h1m1 0h2m1 0h1m3 0h4m1 0h1m1 0h4m2 0h1m1 0h3m1 0h1m1 0h18m1 0h6m1 0h1m123 0h1m1 0h1m2 0h2m2 0h1m1 0h1m1 0h1M219 211.5h1m2 0h1m4 0h2m1 0h1m1 0h1m2 0h1m1 0h1m1 0h1m1 0h3m1 0h6m1 0h19m1 0h3m1 0h3m124 0h1m2 0h2m1 0h1m2 0h1m2 0h1M218 212.5h1m1 0h2m2 0h1m3 0h5m1 0h1m1 0h1m1 0h1m4 0h1m1 0h2m1 0h2m3 0h20m1 0h4m1 0h1m1 0h1m109 0h1m8 0h3m2 0h1m2 0h5m1 0h1m1 0h1M91 213.5h2m124 0h1m1 0h1m1 0h1m1 0h1m1 0h1m3 0h3m1 0h2m2 0h5m1 0h4m1 0h13m1 0h11m1 0h2m3 0h1m2 0h1m108 0h1m3 0h1m3 0h3m3 0h2m2 0h1m7 0h1M94 214.5h1m1 0h1m120 0h1m2 0h2m3 0h1m6 0h1m1 0h3m2 0h15m1 0h22m2 0h1m1 0h1m109 0h2m1 0h1m4 0h1m3 0h1m1 0h2m1 0h1m1 0h2m1 0h2m1 0h3m24 0h1M82 215.5h1m1 0h3m8 0h1m120 0h3m1 0h1m3 0h2m1 0h1m1 0h1m1 0h1m2 0h2m1 0h5m3 0h1m5 0h3m1 0h19m1 0h2m1 0h3m114 0h2m1 0h1m1 0h1m3 0h1m2 0h5m1 0h4m1 0h1m1 0h1m22 0h1M83 216.5h1m1 0h1m4 0h4m2 0h2m116 0h1m1 0h2m3 0h2m5 0h2m1 0h2m1 0h2m2 0h9m1 0h15m1 0h12m4 0h2m108 0h1m1 0h1m2 0h1m1 0h4m1 0h2m1 0h3m1 0h3m1 0h3m1 0h1m2 0h1M82 217.5h2m1 0h4m1 0h3m8 0h1m112 0h1m1 0h1m2 0h1m3 0h1m1 0h7m1 0h2m1 0h2m1 0h1m1 0h2m1 0h26m1 0h3m1 0h4m3 0h2m105 0h1m1 0h1m1 0h6m3 0h3m1 0h1m1 0h4m1 0h4m1 0h1M79 218.5h1m3 0h2m1 0h6m1 0h7m2 0h2m114 0h1m4 0h1m2 0h1m5 0h5m1 0h2m1 0h2m1 0h29m1 0h2m2 0h2m1 0h1m107 0h1m1 0h6m1 0h7m1 0h1m2 0h1m1 0h4m1 0h1m1 0h2M80 219.5h2m2 0h11m2 0h1m5 0h1m119 0h1m1 0h2m3 0h4m1 0h1m2 0h1m1 0h5m1 0h1m1 0h3m1 0h16m1 0h7m2 0h1m1 0h4m105 0h1m1 0h1m1 0h5m1 0h6m1 0h1m1 0h1m1 0h7m1 0h2M76 220.5h1m1 0h1m1 0h2m1 0h4m1 0h12m1 0h2m1 0h2m113 0h2m3 0h3m1 0h2m2 0h14m1 0h4m1 0h23m2 0h2m1 0h1m108 0h1m1 0h9m2 0h3m1 0h11m1 0h2M77 221.5h3m1 0h3m1 0h17m3 0h1m112 0h4m5 0h1m3 0h4m1 0h6m1 0h5m1 0h1m2 0h20m2 0h1m2 0h2m2 0h1m108 0h21m2 0h1m1 0h3M78 222.5h2m1 0h1m1 0h20m1 0h2m114 0h3m1 0h4m4 0h7m2 0h5m2 0h4m2 0h25m1 0h1m108 0h2m2 0h19M72 223.5h1m5 0h1m2 0h23m115 0h1m3 0h1m1 0h3m1 0h2m1 0h1m1 0h9m1 0h6m1 0h25m2 0h3m108 0h3m1 0h17m1 0h2m2 0h1m3 0h3M72 224.5h2m4 0h1m1 0h20m1 0h1m1 0h1m1 0h2m113 0h1m4 0h4m2 0h2m1 0h2m1 0h1m1 0h1m1 0h4m1 0h4m2 0h9m1 0h14m1 0h1m111 0h14m1 0h7m2 0h1m2 0h1m3 0h1m1 0h1M70 225.5h1m3 0h4m1 0h23m1 0h1m1 0h1m115 0h2m1 0h1m1 0h8m1 0h7m2 0h9m1 0h23m2 0h2m1 0h2m105 0h13m1 0h4m1 0h4m2 0h2m1 0h1M61 226.5h2m1 0h2m2 0h1m1 0h1m2 0h1m1 0h1m2 0h15m1 0h8m1 0h4m110 0h1m1 0h3m1 0h1m2 0h5m1 0h2m1 0h3m1 0h33m1 0h1m2 0h5m3 0h1m104 0h14m1 0h2m1 0h5m3 0h1m2 0h2M61 227.5h3m2 0h2m1 0h2m1 0h2m1 0h5m1 0h22m1 0h1m2 0h1m109 0h2m1 0h2m1 0h3m1 0h5m1 0h3m1 0h5m4 0h1m2 0h27m1 0h3m109 0h7m1 0h5m1 0h6m1 0h4m1 0h2M49 228.5h1m7 0h4m1 0h1m1 0h2m3 0h2m2 0h2m1 0h2m2 0h20m1 0h5m1 0h2m108 0h1m1 0h2m2 0h1m2 0h1m2 0h2m1 0h1m2 0h11m2 0h28m2 0h3m1 0h1m1 0h1m104 0h1m1 0h13m1 0h2m1 0h3m3 0h1m2 0h1m2 0h1M47 229.5h2m5 0h4m1 0h3m2 0h4m1 0h2m1 0h4m2 0h1m3 0h23m2 0h2m109 0h1m3 0h2m2 0h3m1 0h1m1 0h4m1 0h3m1 0h2m2 0h1m1 0h4m1 0h12m1 0h9m1 0h5m1 0h4m104 0h7m1 0h11m1 0h7m3 0h1M48 230.5h2m1 0h1m2 0h2m1 0h1m1 0h3m1 0h5m1 0h2m1 0h1m1 0h24m1 0h8m109 0h2m2 0h2m2 0h3m1 0h2m1 0h4m1 0h3m2 0h13m1 0h3m1 0h15m1 0h2m1 0h2m1 0h2m106 0h3m1 0h4m2 0h9m1 0h3m1 0h5M46 231.5h2m1 0h2m3 0h3m1 0h1m1 0h1m1 0h2m1 0h3m1 0h1m1 0h35m108 0h2m1 0h3m2 0h2m1 0h1m1 0h4m1 0h17m2 0h11m1 0h13m1 0h2m1 0h2m107 0h8m1 0h8m1 0h4m1 0h1m1 0h2M44 232.5h1m2 0h6m1 0h3m1 0h1m2 0h1m1 0h4m1 0h3m1 0h2m1 0h5m1 0h27m106 0h2m1 0h3m1 0h1m1 0h3m1 0h1m1 0h3m2 0h2m2 0h2m1 0h1m2 0h6m1 0h27m1 0h2m108 0h3m1 0h13m2 0h2m2 0h2m2 0h1M42 233.5h10m1 0h1m1 0h3m1 0h1m1 0h7m1 0h1m1 0h2m3 0h2m1 0h1m1 0h29m105 0h2m1 0h6m1 0h4m1 0h1m2 0h2m3 0h2m1 0h4m1 0h3m3 0h1m1 0h23m3 0h1m2 0h1m105 0h6m1 0h12m3 0h2m1 0h2M41 234.5h1m1 0h2m1 0h2m1 0h1m2 0h2m1 0h7m1 0h15m2 0h27m2 0h1m107 0h7m1 0h1m1 0h1m1 0h4m1 0h5m1 0h7m1 0h2m2 0h21m5 0h1m3 0h1m106 0h1m1 0h17m1 0h2m1 0h1m2 0h1M43 235.5h3m1 0h2m1 0h3m1 0h4m2 0h5m2 0h43m104 0h1m2 0h2m1 0h4m1 0h1m1 0h11m1 0h2m1 0h4m1 0h1m1 0h26m1 0h1m1 0h1m1 0h1m1 0h1m106 0h5m2 0h8m2 0h4m1 0h1m3 0h1M43 236.5h1m1 0h2m3 0h3m1 0h5m1 0h15m1 0h32m1 0h1m104 0h3m1 0h3m4 0h7m2 0h9m1 0h16m1 0h13m1 0h2m1 0h4m107 0h15m1 0h1m1 0h4m2 0h1m3 0h1M41 237.5h2m2 0h8m1 0h3m1 0h3m3 0h1m1 0h1m1 0h13m1 0h4m1 0h24m104 0h1m2 0h4m1 0h3m1 0h14m1 0h6m2 0h26m1 0h5m107 0h17m1 0h2m2 0h1m2 0h1m3 0h1M40 238.5h1m5 0h4m1 0h2m1 0h7m1 0h14m1 0h2m1 0h29m105 0h1m2 0h3m2 0h2m1 0h2m1 0h3m3 0h9m1 0h5m2 0h11m1 0h8m1 0h4m1 0h3m1 0h1m107 0h6m1 0h1m3 0h1m1 0h2m1 0h1m1 0h2m2 0h1m1 0h2m4 0h1M42 239.5h1m2 0h1m1 0h1m1 0h10m2 0h1m1 0h3m1 0h6m1 0h4m1 0h17m1 0h13m105 0h11m1 0h6m1 0h1m2 0h2m1 0h4m1 0h6m2 0h14m1 0h6m1 0h1m3 0h1m1 0h1m108 0h7m2 0h5m2 0h1m1 0h3M41 240.5h3m1 0h5m1 0h5m2 0h4m1 0h2m1 0h2m1 0h4m1 0h3m1 0h1m1 0h25m1 0h1m2 0h1m105 0h2m1 0h2m1 0h3m1 0h4m1 0h1m1 0h8m1 0h31m1 0h5m1 0h1m1 0h2m107 0h4m2 0h1m1 0h8m1 0h2m1 0h1M41 241.5h3m1 0h2m1 0h1m1 0h4m3 0h1m1 0h6m1 0h1m1 0h4m1 0h2m1 0h31m3 0h1m103 0h2m1 0h1m1 0h5m1 0h11m1 0h5m1 0h35m111 0h5m1 0h5m2 0h3m1 0h1m5 0h1M39 242.5h1m2 0h4m1 0h1m1 0h1m1 0h15m1 0h5m1 0h1m1 0h1m1 0h5m1 0h27m1 0h1m102 0h1m1 0h1m1 0h1m1 0h4m1 0h6m1 0h1m2 0h1m1 0h9m1 0h1m1 0h1m1 0h23m1 0h2m1 0h3m108 0h1m1 0h4m1 0h2m2 0h1m1 0h2m1 0h1m1 0h2m4 0h1M39 243.5h1m4 0h1m1 0h7m1 0h4m2 0h1m1 0h16m1 0h28m107 0h2m1 0h1m1 0h1m1 0h2m4 0h1m1 0h13m1 0h3m1 0h2m1 0h1m1 0h26m1 0h1m110 0h7m1 0h1m1 0h7m1 0h1M39 244.5h3m1 0h1m1 0h2m1 0h2m1 0h7m2 0h6m1 0h4m1 0h4m1 0h32m106 0h15m1 0h10m3 0h8m1 0h16m1 0h2m2 0h1m3 0h1m1 0h1m111 0h2m3 0h1m3 0h1m2 0h1m1 0h1M42 245.5h3m1 0h4m1 0h21m1 0h1m2 0h34m106 0h7m1 0h1m1 0h6m1 0h15m1 0h27m1 0h3m111 0h1m1 0h1m1 0h2m3 0h1M41 246.5h1m3 0h3m1 0h5m1 0h9m1 0h2m1 0h6m2 0h15m1 0h14m3 0h1m104 0h2m1 0h2m1 0h1m1 0h1m1 0h2m3 0h4m1 0h11m1 0h1m1 0h4m1 0h21m1 0h1m1 0h3m114 0h1m3 0h4m1 0h1M43 247.5h1m1 0h3m1 0h2m1 0h6m2 0h1m1 0h2m1 0h9m2 0h1m1 0h19m1 0h10m1 0h1m104 0h4m3 0h1m1 0h4m1 0h5m1 0h11m1 0h2m1 0h3m1 0h20m1 0h2m1 0h1m1 0h1m1 0h2m110 0h1m3 0h1m5 0h1M39 248.5h1m1 0h2m1 0h7m1 0h3m1 0h4m1 0h8m2 0h5m1 0h2m2 0h2m1 0h24m1 0h1m104 0h4m1 0h5m4 0h8m1 0h7m1 0h5m1 0h24m1 0h3m124 0h1M40 249.5h2m2 0h2m1 0h7m3 0h2m1 0h2m1 0h13m1 0h3m1 0h13m1 0h14m106 0h9m1 0h2m1 0h2m1 0h7m1 0h2m1 0h1m1 0h1m1 0h1m1 0h4m1 0h12m1 0h7m3 0h3m130 0h1M41 250.5h1m2 0h1m1 0h11m1 0h13m2 0h1m1 0h1m1 0h33m104 0h7m3 0h5m3 0h1m1 0h7m1 0h3m3 0h29m1 0h2m117 0h2m11 0h1M41 251.5h7m2 0h4m1 0h3m1 0h3m1 0h46m1 0h1m104 0h3m1 0h8m1 0h18m1 0h1m1 0h2m1 0h10m1 0h9m1 0h1m2 0h1m122 0h1m41 0h1M41 252.5h2m1 0h1m1 0h9m1 0h11m1 0h6m1 0h33m106 0h2m1 0h23m1 0h1m1 0h8m1 0h2m1 0h20m2 0h2m163 0h1M40 253.5h1m4 0h2m2 0h2m2 0h5m1 0h1m1 0h1m1 0h1m2 0h2m1 0h2m1 0h3m1 0h2m1 0h26m2 0h1m106 0h9m1 0h1m1 0h10m1 0h11m1 0h3m1 0h19m2 0h4m1 0h1m143 0h1m18 0h1m2 0h2M41 254.5h1m1 0h2m1 0h8m1 0h1m1 0h8m1 0h1m1 0h4m1 0h3m2 0h5m1 0h17m1 0h5m1 0h1m107 0h4m1 0h12m1 0h13m2 0h2m1 0h20m4 0h2m114 0h2m29 0h1m20 0h1m3 0h1M41 255.5h1m1 0h3m1 0h12m2 0h5m1 0h8m2 0h1m1 0h28m1 0h1m105 0h1m2 0h2m1 0h2m2 0h2m1 0h10m2 0h9m1 0h11m1 0h11m2 0h2m2 0h1m144 0h1m9 0h1m7 0h2m3 0h2m2 0h2M39 256.5h1m1 0h7m1 0h2m1 0h3m1 0h7m1 0h28m1 0h12m1 0h1m108 0h3m2 0h5m1 0h2m1 0h1m1 0h2m1 0h3m1 0h10m1 0h26m2 0h2m124 0h1m2 0h1m9 0h1m13 0h3m2 0h6m1 0h3m1 0h1m4 0h2m1 0h1M39 257.5h7m2 0h4m1 0h5m2 0h6m2 0h12m1 0h22m1 0h1m5 0h1m103 0h5m1 0h1m1 0h13m1 0h5m2 0h7m2 0h16m1 0h5m1 0h1m1 0h1m126 0h1m1 0h2m8 0h1m15 0h2m1 0h1m1 0h8m1 0h1m1 0h1m1 0h2m1 0h1M41 258.5h3m1 0h2m4 0h1m1 0h3m1 0h4m1 0h3m1 0h1m1 0h3m1 0h29m1 0h1m1 0h2m3 0h1m104 0h1m1 0h10m1 0h8m1 0h4m1 0h1m1 0h5m2 0h6m1 0h14m1 0h2m2 0h1m124 0h1m11 0h1m4 0h1m12 0h1m1 0h2m1 0h2m1 0h2m1 0h3m1 0h1m2 0h1m3 0h2M39 259.5h3m1 0h2m2 0h2m1 0h8m1 0h6m1 0h4m1 0h7m1 0h24m2 0h2m108 0h5m1 0h3m1 0h4m1 0h4m1 0h1m1 0h1m1 0h11m2 0h3m1 0h15m1 0h5m1 0h1m118 0h2m2 0h1m1 0h1m2 0h2m4 0h1m2 0h1m1 0h1m3 0h1m8 0h2m2 0h11m1 0h2m1 0h2m1 0h4M41 260.5h1m1 0h2m1 0h1m1 0h3m2 0h53m109 0h1m1 0h15m1 0h6m1 0h3m1 0h22m1 0h11m121 0h1m4 0h1m10 0h1m5 0h1m8 0h1m2 0h2m1 0h12m2 0h2m3 0h1M39 261.5h1m2 0h15m1 0h9m1 0h2m1 0h6m1 0h13m1 0h7m1 0h3m1 0h1m109 0h5m1 0h8m1 0h1m1 0h6m1 0h1m1 0h3m1 0h10m2 0h4m1 0h4m1 0h2m3 0h1m1 0h1m1 0h1m1 0h1m129 0h1m11 0h1m9 0h2m1 0h3m1 0h10m1 0h2m1 0h2m1 0h2M40 262.5h3m1 0h18m1 0h3m1 0h7m1 0h27m1 0h4m107 0h2m1 0h1m1 0h1m1 0h9m1 0h15m1 0h3m1 0h1m1 0h14m1 0h2m1 0h1m1 0h4m125 0h1m5 0h1m5 0h4m1 0h2m10 0h2m1 0h9m1 0h5m1 0h1m2 0h1m1 0h1M41 263.5h1m1 0h13m1 0h2m1 0h29m1 0h15m109 0h1m2 0h8m3 0h7m1 0h1m1 0h1m1 0h18m1 0h3m2 0h6m1 0h5m127 0h2m2 0h1m5 0h1m5 0h1m1 0h2m5 0h2m1 0h2m1 0h15m2 0h2M39 264.5h10m3 0h1m2 0h2m1 0h1m1 0h6m4 0h9m1 0h21m1 0h1m111 0h1m1 0h1m1 0h2m1 0h24m1 0h4m1 0h1m1 0h9m1 0h2m4 0h1m2 0h3m1 0h3m117 0h1m1 0h1m5 0h1m7 0h1m3 0h1m3 0h1m2 0h1m3 0h1m1 0h3m1 0h13m1 0h4m2 0h1m1 0h2M40 265.5h5m1 0h2m1 0h3m1 0h2m1 0h3m2 0h3m1 0h6m1 0h14m1 0h6m1 0h4m2 0h2m112 0h2m2 0h12m1 0h7m1 0h5m1 0h1m1 0h7m1 0h10m1 0h1m1 0h1m2 0h4m3 0h1m116 0h1m2 0h1m13 0h1m4 0h2m1 0h1m2 0h1m5 0h1m1 0h4m1 0h19m1 0h4M41 266.5h3m1 0h8m2 0h1m1 0h3m1 0h1m2 0h2m2 0h5m2 0h10m1 0h4m1 0h5m1 0h3m2 0h1m111 0h4m1 0h27m2 0h3m1 0h2m1 0h1m2 0h1m1 0h2m2 0h2m1 0h1m1 0h1m1 0h1m2 0h1m2 0h1m118 0h1m1 0h2m2 0h1m2 0h3m2 0h2m7 0h1m8 0h2m1 0h19m1 0h4m3 0h1M40 267.5h14m2 0h4m1 0h5m1 0h1m1 0h1m1 0h3m1 0h1m1 0h1m1 0h13m1 0h1m2 0h1m1 0h1m1 0h2m112 0h18m1 0h4m1 0h15m1 0h2m1 0h11m1 0h2m2 0h5m113 0h1m1 0h1m1 0h1m1 0h2m1 0h1m2 0h1m2 0h1m2 0h1m1 0h1m2 0h1m3 0h1m2 0h1m5 0h2m1 0h1m1 0h6m1 0h12m1 0h2m1 0h1m1 0h2M39 268.5h7m1 0h6m1 0h1m1 0h1m1 0h1m1 0h1m1 0h2m2 0h25m1 0h7m115 0h1m1 0h1m1 0h3m1 0h2m1 0h17m1 0h2m1 0h7m1 0h2m2 0h2m4 0h2m1 0h2m1 0h5m2 0h3m111 0h1m1 0h2m2 0h1m7 0h3m6 0h2m3 0h1m2 0h1m1 0h2m1 0h1m2 0h1m1 0h21m1 0h2m1 0h2M39 269.5h7m1 0h3m2 0h2m1 0h2m2 0h1m1 0h2m2 0h2m1 0h1m1 0h2m1 0h1m2 0h2m1 0h14m4 0h1m1 0h1m115 0h2m1 0h6m1 0h4m1 0h3m1 0h2m1 0h2m1 0h8m1 0h10m1 0h1m1 0h3m3 0h1m1 0h2m2 0h1m1 0h1m1 0h1m117 0h1m3 0h2m3 0h3m2 0h4m6 0h1m1 0h2m5 0h25m1 0h1m4 0h1M39 270.5h1m1 0h1m1 0h9m2 0h2m1 0h1m1 0h1m1 0h4m2 0h2m1 0h5m1 0h1m1 0h1m1 0h2m1 0h4m1 0h1m1 0h1m1 0h2m2 0h2m116 0h21m1 0h1m2 0h4m1 0h6m3 0h2m1 0h2m1 0h3m1 0h14m1 0h1m121 0h1m2 0h1m2 0h1m3 0h1m1 0h1m1 0h2m1 0h1m1 0h2m10 0h25m3 0h1m11 0h1M39 271.5h1m1 0h5m1 0h4m1 0h11m2 0h1m1 0h5m1 0h1m2 0h7m2 0h2m1 0h1m1 0h1m3 0h1m120 0h16m1 0h7m1 0h1m1 0h3m1 0h2m1 0h1m1 0h4m1 0h2m1 0h2m2 0h1m1 0h1m1 0h5m2 0h1m123 0h1m4 0h1m3 0h1m1 0h3m2 0h2m2 0h2m5 0h2m1 0h1m1 0h24m1 0h2m2 0h1m10 0h1M39 272.5h1m1 0h2m2 0h1m4 0h3m1 0h1m2 0h1m2 0h10m2 0h5m1 0h1m2 0h3m3 0h1m1 0h1m124 0h12m1 0h1m1 0h3m1 0h1m1 0h3m1 0h2m2 0h2m1 0h1m1 0h6m1 0h8m2 0h1m1 0h1m2 0h2m1 0h1m2 0h1m118 0h2m1 0h1m6 0h3m2 0h1m3 0h1m6 0h2m2 0h1m2 0h30m2 0h1M39 273.5h6m1 0h6m4 0h1m3 0h4m1 0h2m1 0h1m3 0h4m2 0h4m4 0h2m126 0h2m1 0h5m1 0h2m1 0h10m1 0h2m1 0h5m1 0h9m1 0h3m2 0h1m1 0h5m1 0h2m2 0h1m1 0h2m126 0h3m1 0h1m3 0h4m6 0h4m2 0h2m1 0h26M41 274.5h2m1 0h1m1 0h4m1 0h4m1 0h1m3 0h1m1 0h1m1 0h2m1 0h1m1 0h2m4 0h1m1 0h2m3 0h5m127 0h14m3 0h5m1 0h5m1 0h1m1 0h3m1 0h6m1 0h5m2 0h2m1 0h2m1 0h4m1 0h3m121 0h3m3 0h1m2 0h2m1 0h1m4 0h2m1 0h3m2 0h1m1 0h1m1 0h1m2 0h20m1 0h8m3 0h1M41 275.5h1m1 0h1m1 0h6m1 0h2m1 0h1m1 0h1m2 0h1m1 0h2m2 0h2m1 0h3m2 0h3m4 0h2m1 0h1m2 0h1m128 0h16m1 0h2m1 0h1m1 0h8m2 0h4m1 0h2m2 0h3m2 0h1m1 0h6m2 0h1m1 0h2m125 0h2m2 0h1m2 0h2m3 0h2m1 0h4m2 0h1m1 0h3m2 0h24m1 0h4m1 0h1m1 0h1M39 276.5h3m1 0h4m2 0h1m2 0h1m2 0h3m1 0h1m1 0h1m2 0h1m3 0h5m2 0h4m2 0h1m1 0h1m1 0h3m126 0h2m1 0h1m1 0h5m1 0h8m1 0h4m1 0h10m1 0h3m1 0h3m4 0h2m1 0h2m1 0h2m6 0h1m1 0h1m120 0h6m3 0h2m3 0h3m1 0h3m1 0h2m1 0h5m1 0h27m3 0h1M40 277.5h2m2 0h3m3 0h1m1 0h1m3 0h9m1 0h6m1 0h2m5 0h1m133 0h20m2 0h3m1 0h3m2 0h7m2 0h2m2 0h2m9 0h1m1 0h4m1 0h1m119 0h2m1 0h12m3 0h5m1 0h10m1 0h28m2 0h2M41 278.5h6m3 0h3m1 0h1m1 0h3m1 0h1m1 0h1m1 0h7m3 0h2m5 0h3m131 0h1m1 0h1m1 0h1m1 0h3m2 0h2m2 0h2m3 0h1m1 0h6m2 0h2m1 0h2m2 0h1m1 0h1m2 0h1m2 0h2m2 0h2m129 0h1m2 0h8m1 0h3m1 0h2m2 0h4m1 0h6m1 0h3m1 0h5m1 0h19m1 0h3m1 0h1M39 279.5h12m1 0h3m1 0h1m4 0h1m1 0h1m1 0h2m2 0h1m6 0h1m137 0h1m1 0h5m1 0h7m1 0h1m1 0h1m1 0h2m1 0h2m1 0h2m2 0h3m1 0h1m2 0h2m1 0h2m5 0h2m3 0h3m4 0h1m122 0h12m5 0h7m2 0h1m2 0h2m1 0h7m1 0h18m1 0h3m1 0h1m1 0h1M40 280.5h1m2 0h4m2 0h5m2 0h3m2 0h2m1 0h1m4 0h3m5 0h2m136 0h14m1 0h1m2 0h3m1 0h4m1 0h1m2 0h2m2 0h1m1 0h1m7 0h1m6 0h1m7 0h1m120 0h30m1 0h3m1 0h26m2 0h1M39 281.5h14m2 0h2m3 0h4m2 0h1m6 0h3m138 0h6m2 0h3m1 0h2m5 0h2m2 0h1m2 0h3m1 0h1m1 0h3m1 0h1m6 0h3m9 0h1m2 0h1m122 0h2m1 0h9m1 0h5m1 0h6m2 0h35m3 0h2M41 282.5h6m1 0h1m1 0h1m1 0h5m6 0h2m1 0h1m5 0h1m2 0h1m139 0h7m1 0h4m5 0h1m7 0h1m5 0h1m5 0h3m5 0h1m9 0h1m2 0h2m119 0h1m3 0h1m1 0h12m1 0h8m1 0h37m1 0h1M42 283.5h3m1 0h2m2 0h1m1 0h1m1 0h3m3 0h2m1 0h1m2 0h3m1 0h1m4 0h1m141 0h2m1 0h7m3 0h1m1 0h1m6 0h1m8 0h1m7 0h1m138 0h1m1 0h3m1 0h10m1 0h1m1 0h10m1 0h4m2 0h24m2 0h3m1 0h1m1 0h1M39 284.5h1m2 0h1m1 0h10m3 0h1m1 0h1m2 0h1m2 0h1m1 0h1m1 0h1m1 0h1m143 0h3m1 0h2m1 0h5m3 0h1m1 0h1m6 0h4m4 0h1m9 0h1m140 0h5m1 0h5m1 0h5m1 0h1m2 0h11m1 0h27m1 0h2m1 0h1M39 285.5h2m1 0h8m1 0h1m1 0h4m1 0h1m1 0h1m1 0h4m1 0h1m4 0h1m142 0h2m2 0h4m1 0h1m1 0h3m3 0h1m12 0h1m1 0h1m1 0h2m4 0h2m142 0h57m1 0h2m1 0h1m2 0h1M39 286.5h19m1 0h6m4 0h1m1 0h1m142 0h4m2 0h3m1 0h4m2 0h2m1 0h3m4 0h1m3 0h1m2 0h1m151 0h13m1 0h1m2 0h1m2 0h37m2 0h1m3 0h1M40 287.5h1m1 0h1m1 0h8m2 0h3m4 0h1m3 0h2m3 0h1m3 0h2m3 0h2m133 0h3m1 0h3m3 0h3m1 0h3m2 0h1m6 0h1m3 0h1m8 0h1m21 0h2m119 0h2m1 0h6m2 0h1m1 0h6m1 0h8m1 0h4m1 0h9m1 0h9m1 0h8m2 0h1M39 288.5h1m2 0h3m1 0h3m1 0h1m2 0h3m3 0h1m5 0h2m1 0h2m2 0h1m1 0h1m1 0h2m136 0h6m1 0h5m1 0h1m15 0h1m2 0h1m3 0h3m143 0h1m1 0h4m2 0h4m1 0h6m1 0h21m1 0h7m1 0h14M39 289.5h1m1 0h1m1 0h5m2 0h7m3 0h1m1 0h1m1 0h1m7 0h2m1 0h1m2 0h1m135 0h2m2 0h8m1 0h1m18 0h1m5 0h1m4 0h1m138 0h4m1 0h12m1 0h7m1 0h35m2 0h3M39 290.5h1m1 0h1m1 0h7m1 0h3m2 0h1m1 0h1m3 0h1m1 0h1m2 0h1m2 0h3m1 0h1m139 0h1m1 0h1m2 0h1m1 0h1m1 0h1m7 0h2m3 0h1m11 0h3m6 0h1m19 0h2m119 0h19m1 0h2m1 0h1m1 0h3m1 0h32m2 0h1M39 291.5h4m1 0h4m1 0h3m1 0h2m2 0h3m3 0h1m4 0h1m1 0h2m3 0h1m4 0h1m134 0h2m1 0h2m1 0h5m1 0h1m3 0h2m2 0h1m9 0h3m3 0h1m5 0h1m1 0h2m1 0h1m17 0h1m114 0h1m1 0h3m1 0h12m1 0h45m6 0h2M39 292.5h1m1 0h4m2 0h4m1 0h5m2 0h4m1 0h1m6 0h1m2 0h1m1 0h1m4 0h2m131 0h10m1 0h1m1 0h1m7 0h1m10 0h1m3 0h1m5 0h1m5 0h1m17 0h2m112 0h1m1 0h9m1 0h18m2 0h1m2 0h14m1 0h11m1 0h6M40 293.5h3m1 0h2m1 0h5m1 0h3m4 0h1m1 0h1m1 0h1m2 0h1m4 0h1m4 0h1m137 0h8m1 0h1m1 0h1m4 0h1m1 0h1m3 0h2m2 0h2m7 0h1m6 0h1m138 0h10m1 0h3m1 0h16m1 0h6m1 0h9m1 0h13m1 0h1M40 294.5h1m1 0h2m3 0h6m3 0h3m3 0h1m1 0h1m3 0h2m2 0h1m4 0h1m137 0h1m1 0h1m1 0h1m1 0h5m3 0h2m1 0h1m2 0h1m14 0h1m141 0h1m1 0h2m3 0h2m1 0h11m1 0h42m1 0h1m3 0h2M39 295.5h9m1 0h1m1 0h2m4 0h3m3 0h1m1 0h1m1 0h2m1 0h1m143 0h1m2 0h4m3 0h1m1 0h1m9 0h2m1 0h1m1 0h1m27 0h1m123 0h1m1 0h2m2 0h2m1 0h4m1 0h10m1 0h5m3 0h1m1 0h30m1 0h2m1 0h1M39 296.5h5m1 0h7m1 0h1m1 0h1m1 0h2m1 0h1m3 0h1m3 0h2m144 0h2m1 0h4m1 0h3m13 0h1m2 0h1m26 0h1m126 0h4m1 0h7m1 0h8m1 0h1m1 0h3m1 0h2m1 0h18m1 0h13m4 0h1M41 297.5h1m1 0h2m2 0h2m1 0h4m1 0h1m2 0h3m1 0h1m2 0h1m1 0h1m2 0h1m143 0h1m1 0h10m1 0h1m32 0h1m134 0h1m2 0h3m1 0h11m1 0h5m1 0h4m1 0h2m1 0h28m1 0h1m3 0h1m3 0h1M39 298.5h15m2 0h1m2 0h1m1 0h2m2 0h1m2 0h1m1 0h3m141 0h9m1 0h3m11 0h3m20 0h1m132 0h1m4 0h12m1 0h38m1 0h9m3 0h1m1 0h1M40 299.5h8m1 0h10m1 0h1m1 0h2m1 0h1m1 0h1m1 0h2m2 0h1m140 0h4m2 0h6m13 0h1m4 0h1m150 0h1m1 0h1m1 0h2m1 0h5m2 0h22m1 0h1m1 0h22m1 0h1m3 0h1m1 0h1m2 0h1M39 300.5h1m1 0h5m1 0h1m2 0h4m1 0h4m1 0h6m2 0h1m4 0h1m6 0h2m132 0h1m1 0h9m20 0h1m148 0h2m1 0h6m2 0h9m1 0h5m1 0h11m1 0h25m1 0h2m1 0h1M39 301.5h17m2 0h1m2 0h1m1 0h1m1 0h1m1 0h1m1 0h1m1 0h1m1 0h1m2 0h1m9 0h2m126 0h1m2 0h3m1 0h1m2 0h1m14 0h1m154 0h1m3 0h1m1 0h19m1 0h2m1 0h35m1 0h1m3 0h1M41 302.5h2m1 0h10m1 0h3m3 0h1m4 0h1m2 0h2m4 0h1m140 0h7m15 0h2m157 0h1m1 0h4m1 0h1m1 0h2m1 0h45m1 0h1m1 0h1m1 0h2M39 303.5h1m1 0h10m2 0h2m1 0h3m3 0h1m5 0h1m1 0h2m142 0h2m1 0h3m1 0h3m171 0h1m1 0h7m1 0h1m1 0h2m3 0h5m1 0h6m1 0h30m2 0h3M39 304.5h4m2 0h7m1 0h2m2 0h1m2 0h1m1 0h1m4 0h2m2 0h1m142 0h2m1 0h6m170 0h3m2 0h12m1 0h18m1 0h5m1 0h19m1 0h2m1 0h1M40 305.5h1m2 0h10m2 0h2m1 0h2m1 0h2m5 0h1m146 0h2m1 0h4m1 0h1m1 0h1m1 0h1m165 0h1m3 0h4m1 0h11m1 0h3m1 0h5m1 0h4m1 0h19m1 0h9m2 0h1M40 306.5h1m1 0h1m2 0h5m1 0h4m6 0h3m1 0h2m5 0h2m141 0h3m1 0h3m1 0h2m1 0h1m168 0h8m1 0h1m1 0h1m2 0h1m1 0h9m1 0h4m1 0h14m1 0h18M39 307.5h1m2 0h2m1 0h5m2 0h3m6 0h1m3 0h1m2 0h1m1 0h3m142 0h5m1 0h3m23 0h1m146 0h1m2 0h24m2 0h3m1 0h32m1 0h1m1 0h1M39 308.5h12m1 0h6m4 0h1m1 0h1m1 0h1m1 0h1m2 0h1m142 0h2m1 0h5m2 0h1m22 0h1m148 0h10m1 0h6m3 0h5m1 0h24m1 0h8m1 0h1m2 0h2m1 0h1M39 309.5h12m1 0h3m1 0h2m1 0h2m2 0h1m1 0h4m145 0h2m1 0h2m1 0h2m172 0h1m1 0h2m1 0h3m2 0h3m1 0h2m1 0h12m2 0h4m1 0h23m1 0h6m1 0h1M40 310.5h6m2 0h2m1 0h1m1 0h2m3 0h1m1 0h3m6 0h1m144 0h2m2 0h1m1 0h3m171 0h1m4 0h1m1 0h7m1 0h4m1 0h1m2 0h1m1 0h5m1 0h4m1 0h27m2 0h1m2 0h1M40 311.5h1m1 0h4m1 0h1m1 0h1m1 0h2m1 0h2m1 0h1m1 0h1m3 0h2m8 0h1m140 0h1m1 0h2m1 0h2m172 0h1m1 0h3m1 0h3m1 0h4m1 0h6m1 0h4m1 0h2m1 0h28m1 0h6m4 0h1M39 312.5h1m1 0h14m2 0h1m8 0h1m7 0h2m142 0h1m2 0h1m170 0h2m1 0h8m1 0h1m1 0h2m1 0h8m1 0h3m1 0h8m1 0h5m1 0h1m1 0h1m1 0h19M40 313.5h2m3 0h3m2 0h1m2 0h1m2 0h1m9 0h2m325 0h1m3 0h6m1 0h1m2 0h4m1 0h6m1 0h2m1 0h2m2 0h7m1 0h12m1 0h6m1 0h2m3 0h1M396 314.5h1m1 0h2m1 0h4m1 0h6m2 0h1m1 0h2m1 0h1m5 0h1m2 0h1m2 0h2m1 0h1m4 0h2m2 0h3m1 0h1m2 0h2m1 0h4m1 0h1" stroke="#000" stroke-width="1" fill="none" shape-rendering="crispEdges"/>
<g fill="none" stroke="#2a2a2a" stroke-width="1.5"><rect x="38.3" y="8.2" width="124.8" height="128.8"/><rect x="213.4" y="8.2" width="124.9" height="128.8"/><rect x="388.4" y="8" width="125.5" height="129.3"/><rect x="38.2" y="187" width="124.9" height="127.6"/><rect x="213.4" y="186.8" width="124.9" height="128.2"/><rect x="388.4" y="186.9" width="125.5" height="128.4"/></g>
<path d="M38.3 137v4.0M38.3 137h-4.0M47.69 137v2.6M38.3 127.31h-2.6M53.19 137v2.6M38.3 121.64h-2.6M57.08 137v2.6M38.3 117.61h-2.6M60.11 137v2.6M38.3 114.49h-2.6M62.58 137v2.6M38.3 111.94h-2.6M64.67 137v2.6M38.3 109.79h-2.6M66.48 137v2.6M38.3 107.92h-2.6M68.07 137v2.6M38.3 106.27h-2.6M69.5 137v4.0M38.3 104.8h-4.0M78.89 137v2.6M38.3 95.11h-2.6M84.39 137v2.6M38.3 89.44h-2.6M88.28 137v2.6M38.3 85.41h-2.6M91.31 137v2.6M38.3 82.29h-2.6M93.78 137v2.6M38.3 79.74h-2.6M95.87 137v2.6M38.3 77.59h-2.6M97.68 137v2.6M38.3 75.72h-2.6M99.27 137v2.6M38.3 74.07h-2.6M100.7 137v4.0M38.3 72.6h-4.0M110.09 137v2.6M38.3 62.91h-2.6M115.59 137v2.6M38.3 57.24h-2.6M119.48 137v2.6M38.3 53.21h-2.6M122.51 137v2.6M38.3 50.09h-2.6M124.98 137v2.6M38.3 47.54h-2.6M127.07 137v2.6M38.3 45.39h-2.6M128.88 137v2.6M38.3 43.52h-2.6M130.47 137v2.6M38.3 41.87h-2.6M131.9 137v4.0M38.3 40.4h-4.0M141.29 137v2.6M38.3 30.71h-2.6M146.79 137v2.6M38.3 25.04h-2.6M150.68 137v2.6M38.3 21.01h-2.6M153.71 137v2.6M38.3 17.89h-2.6M156.18 137v2.6M38.3 15.34h-2.6M158.27 137v2.6M38.3 13.19h-2.6M160.08 137v2.6M38.3 11.32h-2.6M161.67 137v2.6M38.3 9.67h-2.6M163.1 137v4M38.3 8.2h-4M213.4 137v4.0M213.4 137h-4.0M222.8 137v2.6M213.4 127.31h-2.6M228.3 137v2.6M213.4 121.64h-2.6M232.2 137v2.6M213.4 117.61h-2.6M235.23 137v2.6M213.4 114.49h-2.6M237.7 137v2.6M213.4 111.94h-2.6M239.79 137v2.6M213.4 109.79h-2.6M241.6 137v2.6M213.4 107.92h-2.6M243.2 137v2.6M213.4 106.27h-2.6M244.62 137v4.0M213.4 104.8h-4.0M254.02 137v2.6M213.4 95.11h-2.6M259.52 137v2.6M213.4 89.44h-2.6M263.42 137v2.6M213.4 85.41h-2.6M266.45 137v2.6M213.4 82.29h-2.6M268.92 137v2.6M213.4 79.74h-2.6M271.01 137v2.6M213.4 77.59h-2.6M272.82 137v2.6M213.4 75.72h-2.6M274.42 137v2.6M213.4 74.07h-2.6M275.85 137v4.0M213.4 72.6h-4.0M285.25 137v2.6M213.4 62.91h-2.6M290.75 137v2.6M213.4 57.24h-2.6M294.65 137v2.6M213.4 53.21h-2.6M297.68 137v2.6M213.4 50.09h-2.6M300.15 137v2.6M213.4 47.54h-2.6M302.24 137v2.6M213.4 45.39h-2.6M304.05 137v2.6M213.4 43.52h-2.6M305.65 137v2.6M213.4 41.87h-2.6M307.08 137v4.0M213.4 40.4h-4.0M316.47 137v2.6M213.4 30.71h-2.6M321.97 137v2.6M213.4 25.04h-2.6M325.87 137v2.6M213.4 21.01h-2.6M328.9 137v2.6M213.4 17.89h-2.6M331.37 137v2.6M213.4 15.34h-2.6M333.46 137v2.6M213.4 13.19h-2.6M335.27 137v2.6M213.4 11.32h-2.6M336.87 137v2.6M213.4 9.67h-2.6M338.3 137v4M213.4 8.2h-4M388.4 137.3v4.0M388.4 137.3h-4.0M397.84 137.3v2.6M388.4 127.57h-2.6M403.37 137.3v2.6M388.4 121.88h-2.6M407.29 137.3v2.6M388.4 117.84h-2.6M410.33 137.3v2.6M388.4 114.71h-2.6M412.81 137.3v2.6M388.4 112.15h-2.6M414.91 137.3v2.6M388.4 109.98h-2.6M416.73 137.3v2.6M388.4 108.11h-2.6M418.34 137.3v2.6M388.4 106.45h-2.6M419.77 137.3v4.0M388.4 104.98h-4.0M429.22 137.3v2.6M388.4 95.24h-2.6M434.74 137.3v2.6M388.4 89.55h-2.6M438.66 137.3v2.6M388.4 85.51h-2.6M441.71 137.3v2.6M388.4 82.38h-2.6M444.19 137.3v2.6M388.4 79.82h-2.6M446.29 137.3v2.6M388.4 77.66h-2.6M448.11 137.3v2.6M388.4 75.78h-2.6M449.71 137.3v2.6M388.4 74.13h-2.6M451.15 137.3v4.0M388.4 72.65h-4.0M460.59 137.3v2.6M388.4 62.92h-2.6M466.12 137.3v2.6M388.4 57.23h-2.6M470.04 137.3v2.6M388.4 53.19h-2.6M473.08 137.3v2.6M388.4 50.06h-2.6M475.56 137.3v2.6M388.4 47.5h-2.6M477.66 137.3v2.6M388.4 45.33h-2.6M479.48 137.3v2.6M388.4 43.46h-2.6M481.09 137.3v2.6M388.4 41.8h-2.6M482.52 137.3v4.0M388.4 40.33h-4.0M491.97 137.3v2.6M388.4 30.59h-2.6M497.49 137.3v2.6M388.4 24.9h-2.6M501.41 137.3v2.6M388.4 20.86h-2.6M504.46 137.3v2.6M388.4 17.73h-2.6M506.94 137.3v2.6M388.4 15.17h-2.6M509.04 137.3v2.6M388.4 13.01h-2.6M510.86 137.3v2.6M388.4 11.13h-2.6M512.46 137.3v2.6M388.4 9.48h-2.6M513.9 137.3v4M388.4 8h-4M38.2 314.6v4.0M38.2 314.6h-4.0M47.6 314.6v2.6M38.2 305h-2.6M53.1 314.6v2.6M38.2 299.38h-2.6M57 314.6v2.6M38.2 295.39h-2.6M60.03 314.6v2.6M38.2 292.3h-2.6M62.5 314.6v2.6M38.2 289.78h-2.6M64.59 314.6v2.6M38.2 287.64h-2.6M66.4 314.6v2.6M38.2 285.79h-2.6M68 314.6v2.6M38.2 284.16h-2.6M69.42 314.6v4.0M38.2 282.7h-4.0M78.82 314.6v2.6M38.2 273.1h-2.6M84.32 314.6v2.6M38.2 267.48h-2.6M88.22 314.6v2.6M38.2 263.49h-2.6M91.25 314.6v2.6M38.2 260.4h-2.6M93.72 314.6v2.6M38.2 257.88h-2.6M95.81 314.6v2.6M38.2 255.74h-2.6M97.62 314.6v2.6M38.2 253.89h-2.6M99.22 314.6v2.6M38.2 252.26h-2.6M100.65 314.6v4.0M38.2 250.8h-4.0M110.05 314.6v2.6M38.2 241.2h-2.6M115.55 314.6v2.6M38.2 235.58h-2.6M119.45 314.6v2.6M38.2 231.59h-2.6M122.48 314.6v2.6M38.2 228.5h-2.6M124.95 314.6v2.6M38.2 225.98h-2.6M127.04 314.6v2.6M38.2 223.84h-2.6M128.85 314.6v2.6M38.2 221.99h-2.6M130.45 314.6v2.6M38.2 220.36h-2.6M131.88 314.6v4.0M38.2 218.9h-4.0M141.27 314.6v2.6M38.2 209.3h-2.6M146.77 314.6v2.6M38.2 203.68h-2.6M150.67 314.6v2.6M38.2 199.69h-2.6M153.7 314.6v2.6M38.2 196.6h-2.6M156.17 314.6v2.6M38.2 194.08h-2.6M158.26 314.6v2.6M38.2 191.94h-2.6M160.07 314.6v2.6M38.2 190.09h-2.6M161.67 314.6v2.6M38.2 188.46h-2.6M163.1 314.6v4M38.2 187h-4M213.4 315v4.0M213.4 315h-4.0M222.8 315v2.6M213.4 305.35h-2.6M228.3 315v2.6M213.4 299.71h-2.6M232.2 315v2.6M213.4 295.7h-2.6M235.23 315v2.6M213.4 292.6h-2.6M237.7 315v2.6M213.4 290.06h-2.6M239.79 315v2.6M213.4 287.91h-2.6M241.6 315v2.6M213.4 286.06h-2.6M243.2 315v2.6M213.4 284.42h-2.6M244.62 315v4.0M213.4 282.95h-4.0M254.02 315v2.6M213.4 273.3h-2.6M259.52 315v2.6M213.4 267.66h-2.6M263.42 315v2.6M213.4 263.65h-2.6M266.45 315v2.6M213.4 260.55h-2.6M268.92 315v2.6M213.4 258.01h-2.6M271.01 315v2.6M213.4 255.86h-2.6M272.82 315v2.6M213.4 254.01h-2.6M274.42 315v2.6M213.4 252.37h-2.6M275.85 315v4.0M213.4 250.9h-4.0M285.25 315v2.6M213.4 241.25h-2.6M290.75 315v2.6M213.4 235.61h-2.6M294.65 315v2.6M213.4 231.6h-2.6M297.68 315v2.6M213.4 228.5h-2.6M300.15 315v2.6M213.4 225.96h-2.6M302.24 315v2.6M213.4 223.81h-2.6M304.05 315v2.6M213.4 221.96h-2.6M305.65 315v2.6M213.4 220.32h-2.6M307.08 315v4.0M213.4 218.85h-4.0M316.47 315v2.6M213.4 209.2h-2.6M321.97 315v2.6M213.4 203.56h-2.6M325.87 315v2.6M213.4 199.55h-2.6M328.9 315v2.6M213.4 196.45h-2.6M331.37 315v2.6M213.4 193.91h-2.6M333.46 315v2.6M213.4 191.76h-2.6M335.27 315v2.6M213.4 189.91h-2.6M336.87 315v2.6M213.4 188.27h-2.6M338.3 315v4M213.4 186.8h-4M388.4 315.3v4.0M388.4 315.3h-4.0M397.84 315.3v2.6M388.4 305.64h-2.6M403.37 315.3v2.6M388.4 299.98h-2.6M407.29 315.3v2.6M388.4 295.97h-2.6M410.33 315.3v2.6M388.4 292.86h-2.6M412.81 315.3v2.6M388.4 290.32h-2.6M414.91 315.3v2.6M388.4 288.17h-2.6M416.73 315.3v2.6M388.4 286.31h-2.6M418.34 315.3v2.6M388.4 284.67h-2.6M419.77 315.3v4.0M388.4 283.2h-4.0M429.22 315.3v2.6M388.4 273.54h-2.6M434.74 315.3v2.6M388.4 267.88h-2.6M438.66 315.3v2.6M388.4 263.87h-2.6M441.71 315.3v2.6M388.4 260.76h-2.6M444.19 315.3v2.6M388.4 258.22h-2.6M446.29 315.3v2.6M388.4 256.07h-2.6M448.11 315.3v2.6M388.4 254.21h-2.6M449.71 315.3v2.6M388.4 252.57h-2.6M451.15 315.3v4.0M388.4 251.1h-4.0M460.59 315.3v2.6M388.4 241.44h-2.6M466.12 315.3v2.6M388.4 235.78h-2.6M470.04 315.3v2.6M388.4 231.77h-2.6M473.08 315.3v2.6M388.4 228.66h-2.6M475.56 315.3v2.6M388.4 226.12h-2.6M477.66 315.3v2.6M388.4 223.97h-2.6M479.48 315.3v2.6M388.4 222.11h-2.6M481.09 315.3v2.6M388.4 220.47h-2.6M482.52 315.3v4.0M388.4 219h-4.0M491.97 315.3v2.6M388.4 209.34h-2.6M497.49 315.3v2.6M388.4 203.68h-2.6M501.41 315.3v2.6M388.4 199.67h-2.6M504.46 315.3v2.6M388.4 196.56h-2.6M506.94 315.3v2.6M388.4 194.02h-2.6M509.04 315.3v2.6M388.4 191.87h-2.6M510.86 315.3v2.6M388.4 190.01h-2.6M512.46 315.3v2.6M388.4 188.37h-2.6M513.9 315.3v4M388.4 186.9h-4" stroke="#000" stroke-width="1.2" fill="none"/>
<path d="M76.25 8.2V137M38.3 100.8H163.1M251.8 8.2V137M213.4 100.4H338.3M427 8V137.3M388.4 100.8H513.9M76.2 187V314.6M38.2 279.7H163.1M251.9 186.8V315M213.4 279.7H338.3M426.9 186.9V315.3M388.4 279.8H513.9" stroke="#000" stroke-width="2.1" fill="none"/>
<g fill="#000" stroke="#000" stroke-width="0.5"><text transform="translate(32.3 151.6) scale(0.87 1)" font-size="9.2">10</text><text x="41.5" y="145.9" font-size="6.3">0</text><text transform="translate(30.1 144.9) rotate(-90) scale(0.87 1)" font-size="9.2">10</text><text transform="translate(25.7 135.2) rotate(-90)" font-size="6.3">0</text><text transform="translate(63.05 151.6) scale(0.87 1)" font-size="9.2">10</text><text x="72.25" y="145.9" font-size="6.3">1</text><text transform="translate(30.1 112.7) rotate(-90) scale(0.87 1)" font-size="9.2">10</text><text transform="translate(25.7 103) rotate(-90)" font-size="6.3">1</text><text transform="translate(93.8 151.6) scale(0.87 1)" font-size="9.2">10</text><text x="103" y="145.9" font-size="6.3">2</text><text transform="translate(30.1 80.5) rotate(-90) scale(0.87 1)" font-size="9.2">10</text><text transform="translate(25.7 70.8) rotate(-90)" font-size="6.3">2</text><text transform="translate(124.55 151.6) scale(0.87 1)" font-size="9.2">10</text><text x="133.75" y="145.9" font-size="6.3">3</text><text transform="translate(30.1 48.3) rotate(-90) scale(0.87 1)" font-size="9.2">10</text><text transform="translate(25.7 38.6) rotate(-90)" font-size="6.3">3</text><text transform="translate(155.3 151.6) scale(0.87 1)" font-size="9.2">10</text><text x="164.5" y="145.9" font-size="6.3">4</text><text transform="translate(30.1 16.1) rotate(-90) scale(0.87 1)" font-size="9.2">10</text><text transform="translate(25.7 6.4) rotate(-90)" font-size="6.3">4</text><text transform="translate(207.4 151.6) scale(0.87 1)" font-size="9.2">10</text><text x="216.6" y="145.9" font-size="6.3">0</text><text transform="translate(205.2 144.9) rotate(-90) scale(0.87 1)" font-size="9.2">10</text><text transform="translate(200.8 135.2) rotate(-90)" font-size="6.3">0</text><text transform="translate(238.15 151.6) scale(0.87 1)" font-size="9.2">10</text><text x="247.35" y="145.9" font-size="6.3">1</text><text transform="translate(205.2 112.7) rotate(-90) scale(0.87 1)" font-size="9.2">10</text><text transform="translate(200.8 103) rotate(-90)" font-size="6.3">1</text><text transform="translate(268.9 151.6) scale(0.87 1)" font-size="9.2">10</text><text x="278.1" y="145.9" font-size="6.3">2</text><text transform="translate(205.2 80.5) rotate(-90) scale(0.87 1)" font-size="9.2">10</text><text transform="translate(200.8 70.8) rotate(-90)" font-size="6.3">2</text><text transform="translate(299.65 151.6) scale(0.87 1)" font-size="9.2">10</text><text x="308.85" y="145.9" font-size="6.3">3</text><text transform="translate(205.2 48.3) rotate(-90) scale(0.87 1)" font-size="9.2">10</text><text transform="translate(200.8 38.6) rotate(-90)" font-size="6.3">3</text><text transform="translate(330.4 151.6) scale(0.87 1)" font-size="9.2">10</text><text x="339.6" y="145.9" font-size="6.3">4</text><text transform="translate(205.2 16.1) rotate(-90) scale(0.87 1)" font-size="9.2">10</text><text transform="translate(200.8 6.4) rotate(-90)" font-size="6.3">4</text><text transform="translate(382.4 151.9) scale(0.87 1)" font-size="9.2">10</text><text x="391.6" y="146.2" font-size="6.3">0</text><text transform="translate(380.2 145.2) rotate(-90) scale(0.87 1)" font-size="9.2">10</text><text transform="translate(375.8 135.5) rotate(-90)" font-size="6.3">0</text><text transform="translate(413.15 151.9) scale(0.87 1)" font-size="9.2">10</text><text x="422.35" y="146.2" font-size="6.3">1</text><text transform="translate(380.2 112.88) rotate(-90) scale(0.87 1)" font-size="9.2">10</text><text transform="translate(375.8 103.18) rotate(-90)" font-size="6.3">1</text><text transform="translate(443.9 151.9) scale(0.87 1)" font-size="9.2">10</text><text x="453.1" y="146.2" font-size="6.3">2</text><text transform="translate(380.2 80.55) rotate(-90) scale(0.87 1)" font-size="9.2">10</text><text transform="translate(375.8 70.85) rotate(-90)" font-size="6.3">2</text><text transform="translate(474.65 151.9) scale(0.87 1)" font-size="9.2">10</text><text x="483.85" y="146.2" font-size="6.3">3</text><text transform="translate(380.2 48.23) rotate(-90) scale(0.87 1)" font-size="9.2">10</text><text transform="translate(375.8 38.53) rotate(-90)" font-size="6.3">3</text><text transform="translate(505.4 151.9) scale(0.87 1)" font-size="9.2">10</text><text x="514.6" y="146.2" font-size="6.3">4</text><text transform="translate(380.2 15.9) rotate(-90) scale(0.87 1)" font-size="9.2">10</text><text transform="translate(375.8 6.2) rotate(-90)" font-size="6.3">4</text><text transform="translate(32.2 329.2) scale(0.87 1)" font-size="9.2">10</text><text x="41.4" y="323.5" font-size="6.3">0</text><text transform="translate(30 322.5) rotate(-90) scale(0.87 1)" font-size="9.2">10</text><text transform="translate(25.6 312.8) rotate(-90)" font-size="6.3">0</text><text transform="translate(62.95 329.2) scale(0.87 1)" font-size="9.2">10</text><text x="72.15" y="323.5" font-size="6.3">1</text><text transform="translate(30 290.6) rotate(-90) scale(0.87 1)" font-size="9.2">10</text><text transform="translate(25.6 280.9) rotate(-90)" font-size="6.3">1</text><text transform="translate(93.7 329.2) scale(0.87 1)" font-size="9.2">10</text><text x="102.9" y="323.5" font-size="6.3">2</text><text transform="translate(30 258.7) rotate(-90) scale(0.87 1)" font-size="9.2">10</text><text transform="translate(25.6 249) rotate(-90)" font-size="6.3">2</text><text transform="translate(124.45 329.2) scale(0.87 1)" font-size="9.2">10</text><text x="133.65" y="323.5" font-size="6.3">3</text><text transform="translate(30 226.8) rotate(-90) scale(0.87 1)" font-size="9.2">10</text><text transform="translate(25.6 217.1) rotate(-90)" font-size="6.3">3</text><text transform="translate(155.2 329.2) scale(0.87 1)" font-size="9.2">10</text><text x="164.4" y="323.5" font-size="6.3">4</text><text transform="translate(30 194.9) rotate(-90) scale(0.87 1)" font-size="9.2">10</text><text transform="translate(25.6 185.2) rotate(-90)" font-size="6.3">4</text><text transform="translate(207.4 329.6) scale(0.87 1)" font-size="9.2">10</text><text x="216.6" y="323.9" font-size="6.3">0</text><text transform="translate(205.2 322.9) rotate(-90) scale(0.87 1)" font-size="9.2">10</text><text transform="translate(200.8 313.2) rotate(-90)" font-size="6.3">0</text><text transform="translate(238.15 329.6) scale(0.87 1)" font-size="9.2">10</text><text x="247.35" y="323.9" font-size="6.3">1</text><text transform="translate(205.2 290.85) rotate(-90) scale(0.87 1)" font-size="9.2">10</text><text transform="translate(200.8 281.15) rotate(-90)" font-size="6.3">1</text><text transform="translate(268.9 329.6) scale(0.87 1)" font-size="9.2">10</text><text x="278.1" y="323.9" font-size="6.3">2</text><text transform="translate(205.2 258.8) rotate(-90) scale(0.87 1)" font-size="9.2">10</text><text transform="translate(200.8 249.1) rotate(-90)" font-size="6.3">2</text><text transform="translate(299.65 329.6) scale(0.87 1)" font-size="9.2">10</text><text x="308.85" y="323.9" font-size="6.3">3</text><text transform="translate(205.2 226.75) rotate(-90) scale(0.87 1)" font-size="9.2">10</text><text transform="translate(200.8 217.05) rotate(-90)" font-size="6.3">3</text><text transform="translate(330.4 329.6) scale(0.87 1)" font-size="9.2">10</text><text x="339.6" y="323.9" font-size="6.3">4</text><text transform="translate(205.2 194.7) rotate(-90) scale(0.87 1)" font-size="9.2">10</text><text transform="translate(200.8 185) rotate(-90)" font-size="6.3">4</text><text transform="translate(382.4 329.9) scale(0.87 1)" font-size="9.2">10</text><text x="391.6" y="324.2" font-size="6.3">0</text><text transform="translate(380.2 323.2) rotate(-90) scale(0.87 1)" font-size="9.2">10</text><text transform="translate(375.8 313.5) rotate(-90)" font-size="6.3">0</text><text transform="translate(413.15 329.9) scale(0.87 1)" font-size="9.2">10</text><text x="422.35" y="324.2" font-size="6.3">1</text><text transform="translate(380.2 291.1) rotate(-90) scale(0.87 1)" font-size="9.2">10</text><text transform="translate(375.8 281.4) rotate(-90)" font-size="6.3">1</text><text transform="translate(443.9 329.9) scale(0.87 1)" font-size="9.2">10</text><text x="453.1" y="324.2" font-size="6.3">2</text><text transform="translate(380.2 259) rotate(-90) scale(0.87 1)" font-size="9.2">10</text><text transform="translate(375.8 249.3) rotate(-90)" font-size="6.3">2</text><text transform="translate(474.65 329.9) scale(0.87 1)" font-size="9.2">10</text><text x="483.85" y="324.2" font-size="6.3">3</text><text transform="translate(380.2 226.9) rotate(-90) scale(0.87 1)" font-size="9.2">10</text><text transform="translate(375.8 217.2) rotate(-90)" font-size="6.3">3</text><text transform="translate(505.4 329.9) scale(0.87 1)" font-size="9.2">10</text><text x="514.6" y="324.2" font-size="6.3">4</text><text transform="translate(380.2 194.8) rotate(-90) scale(0.87 1)" font-size="9.2">10</text><text transform="translate(375.8 185.1) rotate(-90)" font-size="6.3">4</text></g>
<g fill="#000" stroke="#000" stroke-width="0.35" font-weight="bold" font-size="18.6"><text transform="translate(70 171.6) scale(1.03 1)">Control</text><text transform="translate(258.3 172.1) scale(1.07 1)">SIRP</text><text transform="translate(432 171.5) scale(1.07 1)">SIRP</text><text transform="translate(81.7 349.9) scale(1.07 1)">SIRP</text><text transform="translate(255.6 350.6) scale(1.07 1)">SIRP</text><text transform="translate(432.3 350.6) scale(1.07 1)">SIRP</text><text transform="translate(14.3 117.6) rotate(-90) scale(1.07 1)">Control</text><text transform="translate(190.3 105.6) rotate(-90) scale(1.07 1)">CD90</text><text transform="translate(367 105.2) rotate(-90) scale(1.07 1)">CD71</text><text transform="translate(13.3 277.8) rotate(-90) scale(1.07 1)">CD117</text><text transform="translate(190.4 279.1) rotate(-90) scale(1.07 1)">CD164</text><text transform="translate(366.2 275.8) rotate(-90) scale(1.07 1)">CD19</text></g>
</svg></body></html>
